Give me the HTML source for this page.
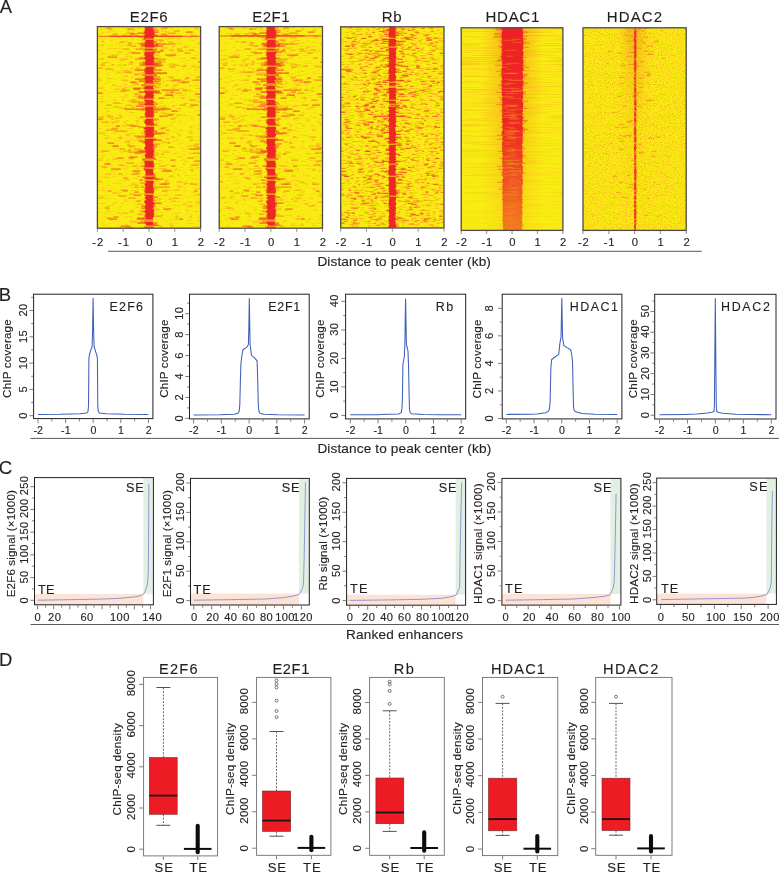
<!DOCTYPE html>
<html><head><meta charset="utf-8"><title>Figure</title><style>
html,body{margin:0;padding:0;background:#fff;overflow:hidden}
svg{display:block}
text{font-family:"Liberation Sans",sans-serif;stroke:#231f20;stroke-width:0.13px}
</style></head><body>
<svg width="779" height="873" viewBox="0 0 779 873">
<rect width="779" height="873" fill="#fff"/>
<defs>
<linearGradient id="g4b" x1="0" y1="0" x2="0" y2="1"><stop offset="0" stop-color="#ee2a24"/><stop offset="0.5" stop-color="#ee2f23"/><stop offset="0.7" stop-color="#f04c23"/><stop offset="1" stop-color="#f47a20"/></linearGradient>
<linearGradient id="g4h" x1="0" y1="0" x2="1" y2="0"><stop offset="0" stop-color="#f5901e" stop-opacity="0"/><stop offset="0.5" stop-color="#f5901e" stop-opacity="0.75"/><stop offset="1" stop-color="#f5901e" stop-opacity="0"/></linearGradient>
<linearGradient id="g4v" x1="0" y1="0" x2="0" y2="1"><stop offset="0" stop-color="#fff"/><stop offset="0.6" stop-color="#999"/><stop offset="1" stop-color="#333"/></linearGradient>
<mask id="m4"><rect x="460" y="27" width="104" height="204" fill="url(#g4v)"/></mask>
<linearGradient id="g5h" x1="0" y1="0" x2="1" y2="0"><stop offset="0" stop-color="#f4821f" stop-opacity="0"/><stop offset="0.5" stop-color="#f4821f" stop-opacity="0.55"/><stop offset="1" stop-color="#f4821f" stop-opacity="0"/></linearGradient>
<linearGradient id="g5v" x1="0" y1="0" x2="0" y2="1"><stop offset="0" stop-color="#fff"/><stop offset="0.2" stop-color="#888"/><stop offset="0.5" stop-color="#222"/><stop offset="1" stop-color="#000"/></linearGradient>
<mask id="m5"><rect x="582" y="27" width="106" height="204" fill="url(#g5v)"/></mask>
<filter id="n5" x="0" y="0" width="100%" height="100%" color-interpolation-filters="sRGB"><feTurbulence type="fractalNoise" baseFrequency="0.75 0.9" numOctaves="2" seed="7"/><feColorMatrix type="matrix" values="0 0 0 0 0.96  0 0 0 0 0.6  0 0 0 0 0.12  2.1 0 0 0 -0.96"/></filter>
<filter id="n3" x="0" y="0" width="100%" height="100%" color-interpolation-filters="sRGB"><feTurbulence type="fractalNoise" baseFrequency="0.2 0.7" numOctaves="2" seed="11"/><feColorMatrix type="matrix" values="0 0 0 0 0.965  0 0 0 0 0.62  0 0 0 0 0.12  3 0 0 0 -1.5"/></filter>
<filter id="n1" x="0" y="0" width="100%" height="100%" color-interpolation-filters="sRGB"><feTurbulence type="fractalNoise" baseFrequency="0.17 0.6" numOctaves="2" seed="5"/><feColorMatrix type="matrix" values="0 0 0 0 0.968  0 0 0 0 0.66  0 0 0 0 0.12  3 0 0 0 -1.68"/></filter>
<filter id="n4" x="0" y="0" width="100%" height="100%" color-interpolation-filters="sRGB"><feTurbulence type="fractalNoise" baseFrequency="0.02 0.9" numOctaves="2" seed="3"/><feColorMatrix type="matrix" values="0 0 0 0 0.965  0 0 0 0 0.68  0 0 0 0 0.12  2.0 0 0 0 -0.92"/></filter>
</defs>
<g>
<rect x="97.4" y="26.6" width="103.2" height="201.6" fill="#f9ec13"/>
<rect x="97.4" y="26.6" width="103.2" height="201.6" filter="url(#n1)" opacity="0.9"/>
<path d="M167.38 56.1h5.66M99.01 133.1h6.66M175.15 216.1h3.02M158.63 62.1h6.82M109.19 191.1h2.03M190.11 140.1h3.19M108.08 116.1h4.77M150.05 128.1h3.72M172.95 198.1h6.07M168.24 77.1h5.83M109.9 130.1h5.38M168.98 199.1h2.61M139.21 37.1h5.25M165.66 93.1h2.96M135.96 68.1h5.57M111.03 122.1h5.99M147.7 202.1h2.7M151.87 155.1h6.73M130.73 107.1h4.27M110.88 65.1h3.04M113.56 107.1h6.99M125.48 105.1h6.68M140.47 73.1h5.13M171.09 97.1h2.92M130.77 222.1h6M165.34 55.1h5.68M136.23 168.1h3.06M122.78 59.1h5.13M156.43 153.1h2.56M141.94 143.1h5.54M157.17 199.1h4.21M164.42 31.1h2.48M111.59 55.1h6.75M105.06 174.1h6.17M175.02 195.1h6.57M132.26 83.1h2.18M107.72 29.1h5.15M117.29 37.1h2.24M193.86 144.1h5.84M117.95 165.1h6.93M108.04 29.1h3.5M173.92 65.1h5.1M157.69 43.1h3.34M97.9 160.1h4.42M99.4 59.1h4.71M139.34 222.1h3.91M118.11 65.1h3.47M184.36 79.1h2.88M112.35 159.1h5.08M138.02 101.1h2.11M196.37 195.1h3.73M170.08 78.1h3.44M171.71 106.1h3.7M149.14 76.1h2.4M129.24 194.1h5.46M186.6 146.1h5.48M137.93 176.1h2.2M158.79 166.1h6.83M151.28 123.1h6.36M114.99 35.1h2.45M150.21 125.1h3.69M113.31 128.1h4.81M169.77 27.1h3.44M148.77 66.1h6.37M136.53 121.1h2.13M187.79 107.1h5.66M174.59 219.1h3.2M149.55 122.1h3.94M106.95 105.1h4.85M97.9 182.1h3.68M151.77 103.1h5.35M121.65 80.1h5.76M197.09 97.1h3.01M172.92 85.1h5.55M196.45 161.1h3.65M125.27 179.1h3.96M148.6 131.1h5.53M186.53 206.1h6.06M124.39 142.1h5.22M151.02 214.1h3.55M147.22 115.1h4.35M154.29 55.1h5.17M123.47 151.1h6.53M155.24 87.1h3.69M136.66 139.1h5.67M138.89 92.1h4.9M138.69 201.1h2.31M161.55 169.1h3.53M142.27 106.1h4.89M147.99 137.1h5.9M153.48 209.1h5.7M153.32 30.1h2.53M176.79 182.1h5.62M97.9 198.1h4.68M101.09 63.1h5.22M169.3 176.1h4.39M145.71 160.1h2.19M153.51 106.1h2M154.46 189.1h3.55M159.92 41.1h3.67M195.67 202.1h4.43M98.4 93.1h5.39M171.31 201.1h4.79M142.26 39.1h6.26M168.95 50.1h4.65M148.93 174.1h2.84M126.18 141.1h4.46M168.55 64.1h5.68M98.1 117.1h6.13M138.78 58.1h4.95M141.42 40.1h6.84M129.95 69.1h2.95M122.26 126.1h3.76M137.41 204.1h6.53M140.7 141.1h5.14M182.99 66.1h2.75M140.58 48.1h6.24M132.04 27.1h6.47M165.11 114.1h6.81M114.08 34.1h3.76M146.49 79.1h6.97M145.1 76.1h5.23M153.33 200.1h2.31M108.56 218.1h3.91M153.77 132.1h4.06M120.34 60.1h3.65M129.14 147.1h3.51M137.15 91.1h4.07M180.7 66.1h5.72M151.08 53.1h4.71M163.93 182.1h5.57M118.5 116.1h3.34M154.24 87.1h6.93M141.29 133.1h2.66M141.16 85.1h6.82M167.86 42.1h5.33M104.95 138.1h3.36M154.38 139.1h2.54M162.58 61.1h2.1M172.77 65.1h2.92M115.01 118.1h3.03M98.44 88.1h5.12M183.6 184.1h2.27M193.01 146.1h5.02M116.21 121.1h3.53M197.58 44.1h2.52M163.42 73.1h3.93M171 111.1h3.02M162.41 35.1h6.4M122.55 213.1h5.36M137.46 37.1h5.3M120.27 108.1h6.99M134.49 36.1h3.65M143.92 169.1h5.23M158.41 129.1h4.2M110.27 119.1h3.91M128.31 52.1h6.71M171.85 88.1h3.18M106.14 218.1h4.89M152.61 181.1h6.96M197.6 80.1h2.5M100.7 197.1h3.64M116.7 72.1h4.91M194.84 147.1h4.6M194.02 67.1h5.74M146.36 84.1h3.61M173.54 190.1h5.94M125.41 76.1h2.45M168.38 38.1h6.65M167.26 142.1h2.29M137.93 81.1h6.97M135.21 36.1h3.82M161.69 142.1h4.58M170.04 80.1h5.64M134.75 173.1h5.96M126.64 72.1h6.69M136.73 97.1h3.83M127.54 64.1h5.46M109.92 36.1h6.44M134.73 96.1h6.05M148.24 177.1h2.57M135.26 151.1h6.97M176.32 115.1h5.39M114.56 89.1h4.99M138.42 28.1h2.75M112.11 193.1h6.04M112.21 34.1h4.68M175.01 169.1h2.25M188.59 91.1h3.04M149.42 181.1h2.56M111.96 85.1h4.78M162.94 152.1h6.74M121.18 89.1h4.11M97.9 79.1h2.7M191.99 66.1h2.32M113.01 146.1h5.63M160.2 28.1h5.93M106.87 117.1h6.27M160.82 113.1h4.51M155.78 107.1h5.62M162.56 82.1h2.17M142.71 190.1h5.75M147.45 156.1h4.18M131.19 184.1h5.68M162.31 48.1h5.24M183.85 47.1h4.71M173.38 118.1h3.08M127.52 101.1h4.83M169.26 67.1h6.71M154.5 46.1h3.43M125.14 135.1h5.62M121.86 100.1h2.05M171.29 119.1h2.17M163 107.1h3.17M182.9 204.1h3.98M106.57 115.1h3.63M169.45 67.1h4.41M169.41 225.1h3.45M148.56 30.1h2.56M186.68 137.1h6.58" stroke="#f6961e" stroke-width="1" opacity="0.75" fill="none"/>
<path d="M164.48 170.1h6.41M150.45 35.1h4.93M126.92 125.1h7.33M147.59 35.1h7.48M147.59 106.1h3.61M193.44 36.1h3.9M160.37 110.1h4.27M127.15 29.1h7.51M128.5 152.1h7.93M104.85 208.1h4.47M134.07 84.1h5.09M147.78 65.1h3.31M156.98 40.1h6.98M152.49 104.1h5.61M128.3 198.1h7.37M149.47 91.1h7.48M161.78 191.1h5.54M158.87 51.1h5.3M148.84 63.1h6.71M125.5 227.1h6.22M149.78 214.1h5.68M179.56 105.1h6.53M169.78 160.1h6.28M128 43.1h4.36M105.53 69.1h7.44M105.55 28.1h5.29M115.08 131.1h3.36M123.07 65.1h3.26M131.28 100.1h5.29M190.04 184.1h7.25M131.62 174.1h7.37M148.27 145.1h4.98M143.14 75.1h3M126.57 33.1h7.21M102.64 167.1h4.73M176.85 49.1h5.15M122.17 90.1h7.48M101.44 122.1h7.1M160.86 154.1h3.09M142.04 160.1h5.03M127.47 45.1h4.07M142.93 212.1h3.26M162.49 184.1h6.71M130.93 126.1h7.98M155.53 79.1h3.24M133.61 149.1h7.97M137.42 152.1h7.36M190.69 36.1h4.73M119.63 91.1h6.66M120.95 190.1h6.06M164.67 44.1h5.91M168.29 33.1h7.48M147.51 219.1h4.95M145.69 81.1h5.13M167.27 143.1h3.11M118.36 138.1h3.26M145.73 126.1h3.15M105.8 130.1h3.74M123.44 72.1h7.24M160.88 108.1h5.43M118.23 174.1h4M137.43 214.1h5.19M162.35 28.1h5.59M154.43 36.1h3.53M107.59 191.1h3.8M117.94 131.1h6.5M154.34 134.1h7.52M140.68 151.1h7.67M133.98 89.1h6.05M143.75 128.1h6.76M184.5 53.1h6.28M167.06 95.1h6.14M119.03 196.1h7.58M152.22 93.1h4.26M152.26 46.1h6M158.55 226.1h3.08M112.98 103.1h7.53M100.79 65.1h4.36M124.38 131.1h3.16M191.03 165.1h7.41M160.62 34.1h5.43M151.32 120.1h5.4M146.03 46.1h5.33M192.2 80.1h6.89M157.41 84.1h3.85M152.73 81.1h3.45M169.52 44.1h6.13M128.03 150.1h3.79M190.62 170.1h3.01M187.2 158.1h6.7M123.02 178.1h4.61M173.61 31.1h6.06M97.9 68.1h4.79M146.37 73.1h5.58M193.5 161.1h6.24M171.06 137.1h3.57M127.7 29.1h3M138.9 58.1h7.82M164.92 55.1h6.17M133.98 94.1h5.53M100.85 151.1h6.12M134 74.1h6.63M132.32 166.1h4.64M197.5 148.1h2.6M130.22 126.1h6.04M134.45 187.1h4.59M154.61 61.1h7.21M148.64 162.1h5.27M150.66 83.1h6.57M142.99 52.1h7.01M147.04 37.1h7.28M126.96 163.1h7.42M110.97 129.1h6.94M122.53 49.1h6.88M122.76 35.1h3.45M198.13 153.1h1.97M122.96 191.1h5.02M196.32 77.1h3.78M181.52 98.1h3.28M165.49 130.1h4.3M193.02 153.1h4.78M119.33 42.1h4.98M182.24 90.1h5.27M143.49 137.1h4.29M188.81 50.1h5.14M132.53 34.1h5.44M127.96 158.1h6.06M189.41 100.1h6.11M144.2 91.1h7.32M128.58 146.1h6.88M127.34 145.1h3.07M171.5 81.1h3.19M140.52 152.1h5.62M148.76 215.1h4.42M155.24 216.1h6.48M177.43 82.1h7.71M135.64 201.1h4.9M175.51 93.1h6.24M119.6 149.1h5.66M168.23 147.1h4.56M152.01 50.1h4.44M177.55 51.1h6.1M156.51 73.1h3.3M131.56 46.1h4.38M155.48 83.1h3.72M191.17 58.1h4.57M129.51 62.1h3.59M139.21 63.1h5.75M160.61 35.1h6.56M143.33 120.1h5.51" stroke="#f26f21" stroke-width="1" opacity="0.8" fill="none"/>
<path d="M194.2 191.1h3.12M185.93 32.1h6.83M173.9 80.1h7.05M153.45 225.1h5.29M148.39 89.1h4.91M169.53 92.1h4.63M120.62 226.1h9.23M161.4 90.1h9.46M147.9 75.1h9.17M170.46 55.1h5.72M107.44 57.1h9.63M167.83 115.1h5.46M144.53 189.1h9.92M144.45 211.1h4M197.8 115.1h2.3M149.42 64.1h9.94M133.47 89.1h6.84M171.22 166.1h4.07M150.76 140.1h4.57M134.4 192.1h4.21M171.65 111.1h6.26M115.99 126.1h4.24M198.33 62.1h1.77M138.12 98.1h6.04M161.97 171.1h9.56M142.19 88.1h7.73M147.68 225.1h9M112.38 146.1h6.21M130.27 34.1h4.53M163.39 209.1h7.43M144.87 56.1h5.94M98.03 93.1h4.21M153.46 81.1h7.45M139.01 96.1h3.99M152.08 66.1h8.53M185.99 78.1h3.18M133.06 88.1h8.38M144.46 168.1h3.52M129.47 157.1h7.99M182.17 82.1h7.18M161.02 128.1h4.36M154.4 63.1h7.38M104.19 164.1h6.52M140.42 166.1h5.69M147.29 202.1h7.44M132.23 171.1h7.59M179.31 219.1h3.69M160.22 50.1h3.17M158.6 98.1h5.94M141.85 75.1h4.85M130.32 82.1h6.71M190.26 105.1h7.85M107.52 143.1h6.32M156.05 44.1h9.79M113.53 217.1h4.33M133.52 195.1h7.88M138.89 151.1h9.17M142.19 152.1h3.14M164.57 95.1h8.11M111.05 169.1h9.69M116.61 158.1h6.6M155.95 179.1h7.55M189.25 149.1h9.93M138.22 141.1h4.95M147.49 146.1h9.91M131.85 53.1h8.81M97.9 119.1h5.28M146.48 181.1h5.28M139.2 180.1h3.98M134.83 153.1h7.69M128.78 36.1h3.42M108.9 219.1h8.11M171.07 90.1h8.36M194.88 94.1h5.22M140.11 117.1h5.15M159.29 116.1h8.58M137.15 218.1h9.66M156.01 93.1h5.34M148.71 64.1h9.27M159.19 184.1h7.76" stroke="#ee3f24" stroke-width="1" opacity="0.85" fill="none"/>
<path d="M98.4 36.3h101.2" stroke="#f36f21" stroke-width="1.2" opacity="0.9" fill="none"/>
<path d="M109.4 36.3h30M131 36.3h40M160.6 36.3h22" stroke="#ee3f24" stroke-width="1.2" opacity="0.9" fill="none"/>
<path d="M144.26 27.1h9.27M144.1 28.1h12.62M146.58 29.1h4.49M146.32 30.1h12.6M139.91 37.1h7.34M146.22 38.1h4.9M148.04 41.1h7.59M140.64 43.1h4.75M135.68 49.1h21.74M148.74 50.1h8.55M146.44 51.1h8.14M143.51 55.1h5.9M139.81 58.1h18.48M135.01 59.1h31.14M148.09 63.1h4.88M147.84 77.1h12.22M143.59 78.1h8.73M144.54 86.1h11.47M140.22 97.1h11.19M131.76 102.1h24.11M142.3 108.1h7.1M140.42 110.1h19.19M151.63 112.1h6.09M153.17 119.1h5.58M138.5 127.1h5.75M133.95 136.1h13.2M137.33 137.1h11.56M142.48 142.1h5.79M145.24 144.1h14.54M138.13 151.1h15.82M143.11 161.1h7.55M144.04 163.1h6.85M139.75 183.1h11.79M140.91 187.1h28.97M145.31 192.1h7.86M145.79 200.1h9.63M139.67 211.1h8.12M143.65 212.1h10.45M142.31 218.1h6.59M140.74 221.1h11.31" stroke="#f26522" stroke-width="1" opacity="0.85" fill="none"/>
<path d="M146.98 32.1h11.72M137.56 33.1h17.53M143.28 35.1h14.12M147.65 36.1h5.28M143.3 39.1h10.22M152.42 42.1h4.47M139.4 44.1h18.61M141.83 45.1h16.27M140.63 46.1h22.45M144.29 52.1h16.09M142.84 62.1h4.52M142.4 64.1h9.34M139.49 65.1h23.36M149.18 68.1h6.79M134.54 70.1h27.64M144.6 73.1h22.43M151.08 75.1h5.33M147.5 76.1h6.39M135.01 79.1h25.92M139.07 81.1h12.77M141.38 85.1h12.95M144.58 90.1h6.42M149.56 91.1h10.25M139.22 92.1h20.37M147.68 93.1h4.32M148.06 94.1h4.36M144.49 98.1h7.35M138.23 104.1h12.57M135.89 106.1h7.5M146.64 107.1h9.43M124.71 109.1h46M146.71 114.1h5.2M145.22 123.1h7.13M150.03 125.1h7.39M143.26 128.1h10.95M143.79 131.1h13.22M146.55 133.1h18.73M146.63 134.1h6.63M150.19 139.1h5.79M151.98 140.1h9.67M149.74 148.1h5.86M145.31 150.1h4.44M144.66 155.1h10.08M147.3 158.1h7.64M142.02 159.1h14.31M143.31 168.1h4.25M146.87 175.1h9M142.08 177.1h13.93M149.17 178.1h6.65M152.61 179.1h5.65M152.7 197.1h5M147.52 198.1h4.02M144.57 202.1h6.95M148.62 203.1h12.87M149.98 204.1h5.15M141.34 206.1h14.03M141.14 208.1h6.8M136.69 219.1h8.29M137.28 223.1h19.96M143.66 227.1h10.43" stroke="#ee3324" stroke-width="1" opacity="0.9" fill="none"/>
<path d="M144.95 27.1h7.66M145.69 28.1h7.63M145.05 29.1h7.98M144.72 30.1h8.82M144.71 31.1h9.74M144.13 32.1h8.98M144.34 33.1h9.98M145.34 34.1h8.66M144.77 35.1h8.41M144.49 36.1h9.12M144.35 37.1h9.53M144.16 38.1h9.7M145.63 40.1h7.93M145.48 41.1h8.18M144.66 42.1h8.07M145.04 43.1h8.67M145.62 44.1h8.19M144.11 45.1h9.22M145.18 46.1h9.14M145 47.1h8.91M144.96 49.1h7.7M144.77 50.1h8.15M145.98 52.1h8.49M144.71 53.1h8.9M144.21 54.1h10.04M144.89 55.1h8.36M145.69 56.1h7.75M144.8 57.1h9.27M144.41 58.1h9.77M145.04 59.1h9.29M145.33 60.1h7.85M145.69 61.1h8.69M145.58 62.1h8.75M144.73 63.1h8.06M145.55 64.1h8.82M145.66 65.1h7.2M145.73 67.1h7.57M145.6 68.1h8.42M144.28 69.1h9.42M145.6 70.1h7.33M144.22 71.1h9.15M144.95 72.1h9.31M145.48 73.1h8.94M145.6 74.1h7.05M144.88 76.1h7.95M145.28 77.1h7.97M144.58 78.1h9.28M144.8 79.1h9.53M144.94 80.1h7.78M145.71 81.1h7.31M145.27 82.1h7.47M144.52 83.1h9.33M145.93 86.1h6.96M144.56 87.1h8.5M144.28 88.1h9.3M145.1 89.1h8.63M144.39 91.1h8.23M144.56 92.1h9.88M145.18 93.1h8.21M145.52 94.1h7.49M145.25 95.1h8.9M144.17 96.1h9.48M144.46 97.1h8.99M144.21 98.1h10.01M144.2 100.1h8.9M144.89 101.1h8.05M145.6 102.1h8.5M145.55 103.1h7.41M144.42 104.1h9.1M144.88 105.1h9.47M145.82 107.1h7.21M145.03 108.1h8.21M145.36 109.1h8.62M145.41 110.1h7.38M145.71 111.1h8.29M145.27 112.1h8.26M145.22 113.1h9.02M144.56 114.1h8.6M145.49 115.1h8.62M144.98 116.1h9.03M145.7 117.1h7.65M145.99 119.1h7.19M144.91 120.1h7.88M144.94 121.1h8.89M144.23 122.1h8.38M144.68 123.1h9.02M145.97 124.1h8.44M145.88 125.1h6.97M145.43 127.1h8.32M144.17 128.1h10.04M144.4 129.1h9.36M145.81 130.1h8.4M145.07 131.1h7.88M144.33 132.1h9.07M145.8 133.1h7.46M144.34 134.1h9.97M145.29 135.1h8.74M145.6 136.1h7.93M144.85 137.1h8.41M144.59 139.1h8.49M144.94 140.1h8M144.83 141.1h8.33M144.33 142.1h9.21M144.78 143.1h8.05M145.21 144.1h7.83M145.11 145.1h8.97M145.78 146.1h6.94M144.76 147.1h9.04M144.17 148.1h8.52M144.7 149.1h9.23M145.58 150.1h8.1M145.54 151.1h8.95M145.93 152.1h7.7M145.5 153.1h8.6M145.82 154.1h7.37M145.05 155.1h8.72M144.96 156.1h7.73M145.14 157.1h9.08M145.54 158.1h8.04M144.35 161.1h8.66M144.84 162.1h8.81M144.78 163.1h8.69M145.32 164.1h9.04M144.56 165.1h8.77M144.38 166.1h9.95M145.34 167.1h8.61M144.44 169.1h8.58M144.47 170.1h9.14M145.45 171.1h7.54M145.45 172.1h7.68M145.5 173.1h8.29M145.85 174.1h8.14M144.94 175.1h7.93M145.73 177.1h8.29M144.32 178.1h9.3M145.81 179.1h7.02M144.8 181.1h8.04M145.95 182.1h8.15M145.85 183.1h7.7M144.47 184.1h8.49M145 185.1h8.53M145.39 186.1h7.35M145.53 187.1h7.31M145.53 188.1h8.74M144.81 189.1h8.09M145.95 190.1h7.89M144.34 191.1h9.91M144.74 192.1h8.95M145.16 193.1h8.67M144.26 195.1h8.81M145.86 196.1h7.7M145.37 197.1h7.32M144.54 198.1h9.12M145.99 199.1h7.09M145.92 200.1h6.92M144.34 201.1h8.62M144.29 202.1h8.76M144.92 203.1h8.43M145.48 204.1h8.88M145.35 205.1h7.76M145.22 206.1h8.52M144.65 207.1h8.73M145.05 208.1h8.55M145.74 209.1h7M145.36 210.1h9.03M144.8 211.1h9.4M145.41 212.1h7.95M145.85 213.1h8.2M144.78 214.1h8.55M145.43 215.1h8.41M144.39 216.1h9.78M145.61 217.1h7.67M145.91 218.1h7.01M145.34 219.1h7.54M144.21 222.1h8.7M145.43 223.1h7.7M145.81 224.1h7.13M145.97 225.1h7.84M145.49 227.1h7.16" stroke="#ed2724" stroke-width="1.1" fill="none"/>
<path d="M145.38 39.1h8.46M145.1 48.1h8.39M145.29 51.1h7.56M144.44 66.1h9.63M145.41 75.1h8.85M145.27 84.1h7.49M144.82 85.1h9.66M145.21 90.1h7.85M145.77 99.1h8.17M145.73 106.1h8.01M145.8 118.1h6.9M145.64 126.1h7.98M145.12 138.1h8.85M144.91 159.1h9.27M144.85 160.1h9.57M145.08 168.1h8.79M144.14 176.1h8.79M144.42 180.1h8.77M144.52 194.1h9.06M144.14 220.1h9.54M145.25 221.1h7.76M145.7 226.1h8.56M144.47 228.1h8.99" stroke="#f6961e" stroke-width="1.1" fill="none"/>
<rect x="97.4" y="26.6" width="103.2" height="201.6" fill="none" stroke="#4d4a48" stroke-width="1.3"/>
</g>
<line x1="97.4" y1="228.7" x2="97.4" y2="231.8" stroke="#808285" stroke-width="0.9"/>
<text transform="translate(92.32 245.8) scale(1.05 1)" font-size="10.7" letter-spacing="0.8" fill="#231f20">-2</text>
<line x1="123.2" y1="228.7" x2="123.2" y2="231.8" stroke="#808285" stroke-width="0.9"/>
<text transform="translate(118.11 245.8) scale(1.05 1)" font-size="10.7" letter-spacing="0.8" fill="#231f20">-1</text>
<line x1="149" y1="228.7" x2="149" y2="231.8" stroke="#808285" stroke-width="0.9"/>
<text transform="translate(146.17 245.8) scale(1.05 1)" font-size="10.7" letter-spacing="0.8" fill="#231f20">0</text>
<line x1="174.8" y1="228.7" x2="174.8" y2="231.8" stroke="#808285" stroke-width="0.9"/>
<text transform="translate(171.83 245.8) scale(1.05 1)" font-size="10.7" letter-spacing="0.8" fill="#231f20">1</text>
<line x1="200.6" y1="228.7" x2="200.6" y2="231.8" stroke="#808285" stroke-width="0.9"/>
<text transform="translate(197.78 245.8) scale(1.05 1)" font-size="10.7" letter-spacing="0.8" fill="#231f20">2</text>
<text transform="translate(129.76 22.3) scale(1.0 1)" font-size="15" letter-spacing="0.67" fill="#231f20">E2F6</text>
<g>
<rect x="219.2" y="26.6" width="103.3" height="201.6" fill="#f9ec13"/>
<rect x="219.2" y="26.6" width="103.3" height="201.6" filter="url(#n1)" opacity="0.9"/>
<path d="M289.25 56.1h5.66M220.81 133.1h6.66M297.03 216.1h3.02M280.49 62.1h6.82M231 191.1h2.03M312 140.1h3.19M229.89 116.1h4.77M271.9 128.1h3.72M294.83 198.1h6.07M290.12 77.1h5.83M231.71 130.1h5.38M290.85 199.1h2.61M261.06 37.1h5.25M287.51 93.1h2.96M257.8 68.1h5.57M232.85 122.1h5.99M269.55 202.1h2.7M273.72 155.1h6.73M252.57 107.1h4.27M232.69 65.1h3.04M235.38 107.1h6.99M247.31 105.1h6.68M262.32 73.1h5.13M292.96 97.1h2.92M252.61 222.1h6M287.19 55.1h5.68M258.08 168.1h3.06M244.61 59.1h5.13M278.29 153.1h2.56M263.78 143.1h5.54M279.02 199.1h4.21M286.27 31.1h2.48M233.41 55.1h6.75M226.87 174.1h6.17M296.9 195.1h6.57M254.09 83.1h2.18M229.54 29.1h5.15M239.11 37.1h2.24M315.76 144.1h5.84M239.77 165.1h6.93M229.86 29.1h3.5M295.79 65.1h5.1M279.54 43.1h3.34M219.7 160.1h4.42M221.2 59.1h4.71M261.18 222.1h3.91M239.93 65.1h3.47M306.24 79.1h2.88M234.17 159.1h5.08M259.86 101.1h2.11M318.27 195.1h3.73M291.95 78.1h3.44M293.58 106.1h3.7M270.99 76.1h2.4M251.08 194.1h5.46M308.49 146.1h5.48M259.77 176.1h2.2M280.65 166.1h6.83M273.14 123.1h6.36M236.81 35.1h2.45M272.07 125.1h3.69M235.13 128.1h4.81M291.65 27.1h3.44M270.62 66.1h6.37M258.37 121.1h2.13M309.68 107.1h5.66M296.47 219.1h3.2M271.4 122.1h3.94M228.76 105.1h4.85M219.7 182.1h3.68M273.62 103.1h5.35M243.5 80.1h5.76M318.99 97.1h3.01M294.8 85.1h5.55M318.35 161.1h3.65M247.12 179.1h3.96M270.45 131.1h5.53M308.42 206.1h6.06M246.22 142.1h5.22M272.87 214.1h3.55M269.07 115.1h4.35M276.14 55.1h5.17M245.3 151.1h6.53M277.1 87.1h3.69M258.5 139.1h5.67M260.73 92.1h4.9M260.54 201.1h2.31M283.41 169.1h3.53M264.11 106.1h4.89M269.84 137.1h5.9M275.34 209.1h5.7M275.18 30.1h2.53M298.67 182.1h5.62M219.7 198.1h4.68M222.89 63.1h5.22M291.15 176.1h4.39M267.56 160.1h2.19M275.36 106.1h2M276.32 189.1h3.55M281.77 41.1h3.67M317.57 202.1h4.43M220.21 93.1h5.39M293.18 201.1h4.79M264.1 39.1h6.26M290.82 50.1h4.65M270.78 174.1h2.84M248.01 141.1h4.46M290.42 64.1h5.68M219.91 117.1h6.13M260.62 58.1h4.95M263.27 40.1h6.84M251.79 69.1h2.95M244.09 126.1h3.76M259.26 204.1h6.53M262.55 141.1h5.14M304.87 66.1h2.75M262.43 48.1h6.24M253.89 27.1h6.47M286.98 114.1h6.81M235.9 34.1h3.76M268.34 79.1h6.97M266.95 76.1h5.23M275.18 200.1h2.31M230.37 218.1h3.91M275.62 132.1h4.06M242.16 60.1h3.65M250.97 147.1h3.51M258.99 91.1h4.07M302.59 66.1h5.72M272.94 53.1h4.71M285.8 182.1h5.57M240.32 116.1h3.34M276.1 87.1h6.93M263.14 133.1h2.66M263.01 85.1h6.82M289.73 42.1h5.33M226.76 138.1h3.36M276.23 139.1h2.54M284.44 61.1h2.1M294.65 65.1h2.92M236.83 118.1h3.03M220.24 88.1h5.12M305.48 184.1h2.27M314.91 146.1h5.02M238.03 121.1h3.53M319.48 44.1h2.52M285.29 73.1h3.93M292.87 111.1h3.02M284.27 35.1h6.4M244.37 213.1h5.36M259.31 37.1h5.3M242.1 108.1h6.99M256.34 36.1h3.65M265.77 169.1h5.23M280.26 129.1h4.2M232.09 119.1h3.91M250.16 52.1h6.71M293.72 88.1h3.18M227.95 218.1h4.89M274.46 181.1h6.96M319.5 80.1h2.5M222.51 197.1h3.64M238.52 72.1h4.91M316.74 147.1h4.6M315.91 67.1h5.74M268.21 84.1h3.61M295.41 190.1h5.94M247.24 76.1h2.45M290.26 38.1h6.65M289.13 142.1h2.29M259.78 81.1h6.97M257.04 36.1h3.82M283.55 142.1h4.58M291.91 80.1h5.64M256.59 173.1h5.96M248.47 72.1h6.69M258.58 97.1h3.83M249.37 64.1h5.46M231.74 36.1h6.44M256.58 96.1h6.05M270.09 177.1h2.57M257.11 151.1h6.97M298.2 115.1h5.39M236.38 89.1h4.99M260.26 28.1h2.75M233.96 193.1h6.04M234.03 34.1h4.68M296.88 169.1h2.25M310.48 91.1h3.04M271.27 181.1h2.56M233.78 85.1h4.78M284.81 152.1h6.74M243 89.1h4.11M219.7 79.1h2.7M313.88 66.1h2.32M234.83 146.1h5.63M282.06 28.1h5.93M228.69 117.1h6.27M282.68 113.1h4.51M277.63 107.1h5.62M284.41 82.1h2.17M264.56 190.1h5.75M269.3 156.1h4.18M253.02 184.1h5.68M284.18 48.1h5.24M305.73 47.1h4.71M295.26 118.1h3.08M249.35 101.1h4.83M291.13 67.1h6.71M276.35 46.1h3.43M246.97 135.1h5.62M243.68 100.1h2.05M293.16 119.1h2.17M284.86 107.1h3.17M304.78 204.1h3.98M228.39 115.1h3.63M291.32 67.1h4.41M291.26 225.1h3.45M270.41 30.1h2.56M308.57 137.1h6.58" stroke="#f6961e" stroke-width="1" opacity="0.75" fill="none"/>
<path d="M286.33 170.1h6.41M272.3 35.1h4.93M248.77 125.1h7.33M269.44 35.1h7.48M269.44 106.1h3.61M315.34 36.1h3.9M282.22 110.1h4.27M248.98 29.1h7.51M250.33 152.1h7.93M226.66 208.1h4.47M255.91 84.1h5.09M269.63 65.1h3.31M278.83 40.1h6.98M274.34 104.1h5.61M250.14 198.1h7.37M271.32 91.1h7.48M283.64 191.1h5.54M280.72 51.1h5.3M270.7 63.1h6.71M247.33 227.1h6.22M271.63 214.1h5.68M301.44 105.1h6.53M291.66 160.1h6.28M249.85 43.1h4.36M227.34 69.1h7.44M227.36 28.1h5.29M236.9 131.1h3.36M244.9 65.1h3.26M253.11 100.1h5.29M311.94 184.1h7.25M253.46 174.1h7.37M270.13 145.1h4.98M264.99 75.1h3M248.4 33.1h7.21M224.44 167.1h4.73M298.73 49.1h5.15M244.02 90.1h7.48M223.25 122.1h7.1M282.72 154.1h3.09M263.89 160.1h5.03M249.3 45.1h4.07M264.78 212.1h3.26M284.35 184.1h6.71M252.76 126.1h7.98M277.38 79.1h3.24M255.46 149.1h7.97M259.27 152.1h7.36M312.58 36.1h4.73M241.46 91.1h6.66M242.78 190.1h6.06M286.54 44.1h5.91M290.17 33.1h7.48M269.36 219.1h4.95M267.54 81.1h5.13M289.14 143.1h3.11M240.21 138.1h3.26M267.58 126.1h3.15M227.61 130.1h3.74M245.29 72.1h7.24M282.75 108.1h5.43M240.05 174.1h4M259.28 214.1h5.19M284.2 28.1h5.59M276.28 36.1h3.53M229.4 191.1h3.8M239.77 131.1h6.5M276.2 134.1h7.52M262.53 151.1h7.67M255.83 89.1h6.05M265.6 128.1h6.76M306.39 53.1h6.28M288.91 95.1h6.14M240.86 196.1h7.58M274.07 93.1h4.26M274.11 46.1h6M280.4 226.1h3.08M234.8 103.1h7.53M222.59 65.1h4.36M246.21 131.1h3.16M312.92 165.1h7.41M282.48 34.1h5.43M273.17 120.1h5.4M267.88 46.1h5.33M314.1 80.1h6.89M279.26 84.1h3.85M274.58 81.1h3.45M291.37 44.1h6.13M249.88 150.1h3.79M312.52 170.1h3.01M309.09 158.1h6.7M244.87 178.1h4.61M295.49 31.1h6.06M219.7 68.1h4.79M268.22 73.1h5.58M315.39 161.1h6.24M292.94 137.1h3.57M249.53 29.1h3M260.75 58.1h7.82M286.77 55.1h6.17M255.82 94.1h5.53M222.66 151.1h6.12M255.85 74.1h6.63M254.15 166.1h4.64M319.4 148.1h2.6M252.06 126.1h6.04M256.3 187.1h4.59M276.46 61.1h7.21M270.49 162.1h5.27M272.51 83.1h6.57M264.84 52.1h7.01M268.89 37.1h7.28M248.81 163.1h7.42M232.78 129.1h6.94M244.36 49.1h6.88M244.59 35.1h3.45M320.03 153.1h1.97M244.78 191.1h5.02M318.21 77.1h3.79M303.41 98.1h3.28M287.36 130.1h4.3M314.92 153.1h4.78M241.15 42.1h4.98M304.13 90.1h5.27M265.34 137.1h4.29M310.7 50.1h5.14M254.38 34.1h5.44M249.79 158.1h6.06M311.3 100.1h6.11M266.05 91.1h7.32M250.43 146.1h6.88M249.19 145.1h3.07M293.37 81.1h3.19M262.36 152.1h5.62M270.61 215.1h4.42M277.09 216.1h6.48M299.32 82.1h7.71M257.48 201.1h4.9M297.39 93.1h6.24M241.42 149.1h5.66M290.1 147.1h4.56M273.86 50.1h4.44M299.43 51.1h6.1M278.36 73.1h3.3M253.4 46.1h4.38M277.33 83.1h3.72M313.06 58.1h4.57M251.36 62.1h3.59M261.06 63.1h5.75M282.46 35.1h6.56M265.18 120.1h5.51" stroke="#f26f21" stroke-width="1" opacity="0.8" fill="none"/>
<path d="M316.1 191.1h3.12M307.82 32.1h6.83M295.75 80.1h7.05M275.3 225.1h5.29M270.24 89.1h4.91M291.41 92.1h4.63M242.47 226.1h9.23M283.26 90.1h9.46M269.75 75.1h9.17M292.33 55.1h5.72M229.25 57.1h9.63M289.7 115.1h5.46M266.38 189.1h9.92M266.29 211.1h4M319.7 115.1h2.3M271.27 64.1h9.94M255.32 89.1h6.84M293.07 166.1h4.07M272.61 140.1h4.57M256.25 192.1h4.21M293.52 111.1h6.26M237.81 126.1h4.24M320.23 62.1h1.77M259.96 98.1h6.04M283.84 171.1h9.56M264.04 88.1h7.73M269.53 225.1h9M234.2 146.1h6.21M252.12 34.1h4.53M285.24 209.1h7.43M266.72 56.1h5.94M219.83 93.1h4.21M275.31 81.1h7.45M260.86 96.1h3.99M273.93 66.1h8.53M307.84 78.1h3.18M254.89 88.1h8.38M266.31 168.1h3.52M251.3 157.1h7.99M304.06 82.1h7.18M282.89 128.1h4.36M276.25 63.1h7.38M226 164.1h6.52M262.27 166.1h5.69M269.14 202.1h7.44M254.08 171.1h7.59M301.19 219.1h3.69M282.07 50.1h3.17M280.45 98.1h5.94M263.7 75.1h4.85M252.17 82.1h6.71M312.16 105.1h7.85M229.33 143.1h6.32M277.91 44.1h9.79M235.35 217.1h4.33M255.37 195.1h7.88M260.74 151.1h9.17M264.04 152.1h3.14M286.43 95.1h8.11M232.86 169.1h9.69M238.43 158.1h6.6M277.81 179.1h7.55M311.15 149.1h9.93M260.07 141.1h4.95M269.34 146.1h9.91M253.69 53.1h8.81M219.7 119.1h5.28M268.33 181.1h5.28M261.05 180.1h3.98M256.68 153.1h7.69M250.63 36.1h3.42M230.72 219.1h8.11M292.95 90.1h8.36M316.78 94.1h5.22M261.96 117.1h5.15M281.14 116.1h8.58M259 218.1h9.66M277.86 93.1h5.34M270.56 64.1h9.27M281.04 184.1h7.76" stroke="#ee3f24" stroke-width="1" opacity="0.85" fill="none"/>
<path d="M220.2 35.9h101.3" stroke="#f36f21" stroke-width="1.2" opacity="0.9" fill="none"/>
<path d="M231.2 35.9h30M252.85 35.9h40M282.5 35.9h22" stroke="#ee3f24" stroke-width="1.2" opacity="0.9" fill="none"/>
<path d="M266.11 27.1h9.27M265.95 28.1h12.62M268.43 29.1h4.49M268.17 30.1h12.6M261.76 37.1h7.34M268.07 38.1h4.9M269.89 41.1h7.59M262.49 43.1h4.75M257.53 49.1h21.74M270.59 50.1h8.55M268.29 51.1h8.14M265.36 55.1h5.9M261.66 58.1h18.48M256.86 59.1h31.14M269.94 63.1h4.88M269.69 77.1h12.22M265.44 78.1h8.73M266.39 86.1h11.47M262.07 97.1h11.19M253.61 102.1h24.11M264.15 108.1h7.1M262.27 110.1h19.19M273.48 112.1h6.09M275.02 119.1h5.58M260.35 127.1h5.75M255.8 136.1h13.2M259.18 137.1h11.56M264.33 142.1h5.79M267.09 144.1h14.54M259.98 151.1h15.82M264.96 161.1h7.55M265.89 163.1h6.85M261.6 183.1h11.79M262.76 187.1h28.97M267.16 192.1h7.86M267.64 200.1h9.63M261.52 211.1h8.12M265.5 212.1h10.45M264.16 218.1h6.59M262.59 221.1h11.31" stroke="#f26522" stroke-width="1" opacity="0.85" fill="none"/>
<path d="M268.83 32.1h11.72M259.41 33.1h17.53M265.13 35.1h14.12M269.5 36.1h5.28M265.15 39.1h10.22M274.27 42.1h4.47M261.25 44.1h18.61M263.68 45.1h16.27M262.48 46.1h22.45M266.14 52.1h16.09M264.69 62.1h4.52M264.25 64.1h9.34M261.34 65.1h23.36M271.03 68.1h6.79M256.39 70.1h27.64M266.45 73.1h22.43M272.93 75.1h5.33M269.35 76.1h6.39M256.86 79.1h25.92M260.92 81.1h12.77M263.23 85.1h12.95M266.43 90.1h6.42M271.41 91.1h10.25M261.07 92.1h20.37M269.53 93.1h4.32M269.91 94.1h4.36M266.34 98.1h7.35M260.08 104.1h12.57M257.74 106.1h7.5M268.49 107.1h9.43M246.56 109.1h46M268.56 114.1h5.2M267.07 123.1h7.13M271.88 125.1h7.39M265.11 128.1h10.95M265.64 131.1h13.22M268.4 133.1h18.73M268.48 134.1h6.63M272.04 139.1h5.79M273.83 140.1h9.67M271.59 148.1h5.86M267.16 150.1h4.44M266.51 155.1h10.08M269.15 158.1h7.64M263.87 159.1h14.31M265.16 168.1h4.25M268.72 175.1h9M263.93 177.1h13.93M271.02 178.1h6.65M274.46 179.1h5.65M274.55 197.1h5M269.37 198.1h4.02M266.42 202.1h6.95M270.47 203.1h12.87M271.83 204.1h5.15M263.19 206.1h14.03M262.99 208.1h6.8M258.54 219.1h8.29M259.13 223.1h19.96M265.51 227.1h10.43" stroke="#ee3324" stroke-width="1" opacity="0.9" fill="none"/>
<path d="M266.8 27.1h7.66M267.54 28.1h7.63M266.9 29.1h7.98M266.57 30.1h8.82M266.56 31.1h9.74M265.98 32.1h8.98M266.19 33.1h9.98M267.19 34.1h8.66M266.62 35.1h8.41M266.34 36.1h9.12M266.2 37.1h9.53M266.01 38.1h9.7M267.48 40.1h7.93M267.33 41.1h8.18M266.51 42.1h8.07M266.89 43.1h8.67M267.47 44.1h8.19M265.96 45.1h9.22M267.03 46.1h9.14M266.85 47.1h8.91M266.81 49.1h7.7M266.62 50.1h8.15M267.83 52.1h8.49M266.56 53.1h8.9M266.06 54.1h10.04M266.74 55.1h8.36M267.54 56.1h7.75M266.65 57.1h9.27M266.26 58.1h9.77M266.89 59.1h9.29M267.18 60.1h7.85M267.54 61.1h8.69M267.43 62.1h8.75M266.58 63.1h8.06M267.4 64.1h8.82M267.51 65.1h7.2M267.58 67.1h7.57M267.45 68.1h8.42M266.13 69.1h9.42M267.45 70.1h7.33M266.07 71.1h9.15M266.8 72.1h9.31M267.33 73.1h8.94M267.45 74.1h7.05M266.73 76.1h7.95M267.13 77.1h7.97M266.43 78.1h9.28M266.65 79.1h9.53M266.79 80.1h7.78M267.56 81.1h7.31M267.12 82.1h7.47M266.37 83.1h9.33M267.78 86.1h6.96M266.41 87.1h8.5M266.13 88.1h9.3M266.95 89.1h8.63M266.24 91.1h8.23M266.41 92.1h9.88M267.03 93.1h8.21M267.37 94.1h7.49M267.1 95.1h8.9M266.02 96.1h9.48M266.31 97.1h8.99M266.06 98.1h10.01M266.05 100.1h8.9M266.74 101.1h8.05M267.45 102.1h8.5M267.4 103.1h7.41M266.27 104.1h9.1M266.73 105.1h9.47M267.67 107.1h7.21M266.88 108.1h8.21M267.21 109.1h8.62M267.26 110.1h7.38M267.56 111.1h8.29M267.12 112.1h8.26M267.07 113.1h9.02M266.41 114.1h8.6M267.34 115.1h8.62M266.83 116.1h9.03M267.55 117.1h7.65M267.84 119.1h7.19M266.76 120.1h7.88M266.79 121.1h8.89M266.08 122.1h8.38M266.53 123.1h9.02M267.82 124.1h8.44M267.73 125.1h6.97M267.28 127.1h8.32M266.02 128.1h10.04M266.25 129.1h9.36M267.66 130.1h8.4M266.92 131.1h7.88M266.18 132.1h9.07M267.65 133.1h7.46M266.19 134.1h9.97M267.14 135.1h8.74M267.45 136.1h7.93M266.7 137.1h8.41M266.44 139.1h8.49M266.79 140.1h8M266.68 141.1h8.33M266.18 142.1h9.21M266.63 143.1h8.05M267.06 144.1h7.83M266.96 145.1h8.97M267.63 146.1h6.94M266.61 147.1h9.04M266.02 148.1h8.52M266.55 149.1h9.23M267.43 150.1h8.1M267.39 151.1h8.95M267.78 152.1h7.7M267.35 153.1h8.6M267.67 154.1h7.37M266.9 155.1h8.72M266.81 156.1h7.73M266.99 157.1h9.08M267.39 158.1h8.04M266.2 161.1h8.66M266.69 162.1h8.81M266.63 163.1h8.69M267.17 164.1h9.04M266.41 165.1h8.77M266.23 166.1h9.95M267.19 167.1h8.61M266.29 169.1h8.58M266.32 170.1h9.14M267.3 171.1h7.54M267.3 172.1h7.68M267.35 173.1h8.29M267.7 174.1h8.14M266.79 175.1h7.93M267.58 177.1h8.29M266.17 178.1h9.3M267.66 179.1h7.02M266.65 181.1h8.04M267.8 182.1h8.15M267.7 183.1h7.7M266.32 184.1h8.49M266.85 185.1h8.53M267.24 186.1h7.35M267.38 187.1h7.31M267.38 188.1h8.74M266.66 189.1h8.09M267.8 190.1h7.89M266.19 191.1h9.91M266.59 192.1h8.95M267.01 193.1h8.67M266.11 195.1h8.81M267.71 196.1h7.7M267.22 197.1h7.32M266.39 198.1h9.12M267.84 199.1h7.09M267.77 200.1h6.92M266.19 201.1h8.62M266.14 202.1h8.76M266.77 203.1h8.43M267.33 204.1h8.88M267.2 205.1h7.76M267.07 206.1h8.52M266.5 207.1h8.73M266.9 208.1h8.55M267.59 209.1h7M267.21 210.1h9.03M266.65 211.1h9.4M267.26 212.1h7.95M267.7 213.1h8.2M266.63 214.1h8.55M267.28 215.1h8.41M266.24 216.1h9.78M267.46 217.1h7.67M267.76 218.1h7.01M267.19 219.1h7.54M266.06 222.1h8.7M267.28 223.1h7.7M267.66 224.1h7.13M267.82 225.1h7.84M267.34 227.1h7.16" stroke="#ed2724" stroke-width="1.1" fill="none"/>
<path d="M267.23 39.1h8.46M266.95 48.1h8.39M267.14 51.1h7.56M266.29 66.1h9.63M267.26 75.1h8.85M267.12 84.1h7.49M266.67 85.1h9.66M267.06 90.1h7.85M267.62 99.1h8.17M267.58 106.1h8.01M267.65 118.1h6.9M267.49 126.1h7.98M266.97 138.1h8.85M266.76 159.1h9.27M266.7 160.1h9.57M266.93 168.1h8.79M265.99 176.1h8.79M266.27 180.1h8.77M266.37 194.1h9.06M265.99 220.1h9.54M267.1 221.1h7.76M267.55 226.1h8.56M266.32 228.1h8.99" stroke="#f6961e" stroke-width="1.1" fill="none"/>
<rect x="219.2" y="26.6" width="103.3" height="201.6" fill="none" stroke="#4d4a48" stroke-width="1.3"/>
</g>
<line x1="219.2" y1="228.7" x2="219.2" y2="231.8" stroke="#808285" stroke-width="0.9"/>
<text transform="translate(214.12 245.8) scale(1.05 1)" font-size="10.7" letter-spacing="0.8" fill="#231f20">-2</text>
<line x1="245.02" y1="228.7" x2="245.02" y2="231.8" stroke="#808285" stroke-width="0.9"/>
<text transform="translate(239.93 245.8) scale(1.05 1)" font-size="10.7" letter-spacing="0.8" fill="#231f20">-1</text>
<line x1="270.85" y1="228.7" x2="270.85" y2="231.8" stroke="#808285" stroke-width="0.9"/>
<text transform="translate(268.02 245.8) scale(1.05 1)" font-size="10.7" letter-spacing="0.8" fill="#231f20">0</text>
<line x1="296.68" y1="228.7" x2="296.68" y2="231.8" stroke="#808285" stroke-width="0.9"/>
<text transform="translate(293.7 245.8) scale(1.05 1)" font-size="10.7" letter-spacing="0.8" fill="#231f20">1</text>
<line x1="322.5" y1="228.7" x2="322.5" y2="231.8" stroke="#808285" stroke-width="0.9"/>
<text transform="translate(319.68 245.8) scale(1.05 1)" font-size="10.7" letter-spacing="0.8" fill="#231f20">2</text>
<text transform="translate(252.16 22.3) scale(1.0 1)" font-size="15" letter-spacing="0.53" fill="#231f20">E2F1</text>
<g>
<rect x="340.7" y="26.8" width="103.3" height="201.2" fill="#f9ec13"/>
<rect x="340.7" y="26.8" width="103.3" height="201.2" filter="url(#n3)"/>
<path d="M412.39 56.3h3.82M343.37 103.3h3.59M415.09 151.3h3.13M410.04 72.3h3.83M394.27 115.3h2.44M365.02 151.3h2.28M416.28 93.3h3.29M360.24 106.3h3.77M384.21 153.3h4.01M384.95 154.3h3.88M415.55 200.3h3.8M439.52 210.3h3.58M408.98 216.3h3.15M361.04 77.3h3.34M353.74 159.3h3.44M355.04 73.3h2.36M414.31 57.3h3.24M416.18 75.3h2.6M386.2 120.3h4.53M368.54 155.3h2.51M438.26 185.3h4.76M361.34 120.3h3.95M366.84 154.3h4.34M353.7 39.3h3.35M437.88 147.3h3.02M365.18 53.3h2.41M395.78 28.3h4.77M438.7 40.3h2.09M387.96 128.3h2.82M349.41 137.3h4.25M346.41 156.3h2.53M353.08 222.3h3.02M363.78 121.3h3.45M374 68.3h3.46M374.26 165.3h2.06M379.39 38.3h3.32M439.85 116.3h2.69M422.8 91.3h4.05M348.85 153.3h4.58M361.02 80.3h2.07M423.32 61.3h4.46M413.61 221.3h2.74M423.67 144.3h2.03M345.6 134.3h3.57M409.76 93.3h2.24M376.28 184.3h4.57M371.98 205.3h4.47M358.93 129.3h3.15M355.66 218.3h2.04M419.17 127.3h2.12M425.59 126.3h4.65M395.36 175.3h3.1M364.15 85.3h3.07M348.4 58.3h3.94M414.05 95.3h4.94M380.88 60.3h2.99M429.71 57.3h3.67M416.15 207.3h4.84M381.36 66.3h4.96M402.01 193.3h3.8M431.02 143.3h3.79M431.86 59.3h4.78M386.32 66.3h3.12M395.31 177.3h4.63M371.69 219.3h4.91M392.68 105.3h2.53M362.97 181.3h3.47M425.84 159.3h3.18M428.13 96.3h3.69M349.31 166.3h4.77M416.54 109.3h4.49M439.34 49.3h4.16M378.25 145.3h2.37M351.31 208.3h4.56M403.33 81.3h4.38M419.13 41.3h2.57M348.54 123.3h3.76M369.68 205.3h3.48M356.98 29.3h4.82M346.96 69.3h3.98M402.07 54.3h3.98M382.64 168.3h3.78M423.1 200.3h4.53M383.93 77.3h4.62M406.26 69.3h4.81M358.26 158.3h3.15M427.37 175.3h4.99M341.2 77.3h4.78M383.26 106.3h2.35M388.18 220.3h2.97M411.81 215.3h4.81M361.91 201.3h3.16M395.21 225.3h3.31M381.7 168.3h4.64M431.62 189.3h4.19M397.23 147.3h4.24M401.28 115.3h2.66M393.52 191.3h2.75M441.85 77.3h1.65M369.08 43.3h2.69M397.35 144.3h4.99M397.33 102.3h4.63M401.32 113.3h3.47M442.21 59.3h1.29M375.7 126.3h3.17M400.59 94.3h4.81M415.1 95.3h4.53M374.84 189.3h3.07M428.1 52.3h3.31M421.47 210.3h4.33M375.57 29.3h4.43M341.2 174.3h1.98M413.47 49.3h2.53M366.29 221.3h4.63M367.28 128.3h4.66M396.4 31.3h4.28M341.2 76.3h2.16M379.09 54.3h3.18M353.36 154.3h4.83M382.21 121.3h2.21M416.81 179.3h4.48M397.76 217.3h3.85M401.21 176.3h3.63M372.3 55.3h3.79M428.94 148.3h2.47M367.71 134.3h4.86M406.27 139.3h2.79M394.52 163.3h3.14M428.6 89.3h2.12M343.19 122.3h3.34M415.27 73.3h4.01M417.28 201.3h4.79M409.74 215.3h4.92M349.74 45.3h3.72M396.24 64.3h3.49M346.1 32.3h2.33M407.56 183.3h4.77M382.95 39.3h3.02M436.48 81.3h2.23M417.16 60.3h4.52M380.88 51.3h2.95M374.46 103.3h2.84M435.61 103.3h3.63M342.9 106.3h2.66M349.01 162.3h3.29M427.33 213.3h2.53M434.05 101.3h2.34M441.34 81.3h2.16M419.36 99.3h4.28M358.07 115.3h3.46M348.36 96.3h2.89M438.56 147.3h2.07M438.76 187.3h2.21M350.85 43.3h3.39M366.66 202.3h2.65M424.33 194.3h2.55M395.35 144.3h4.34M414.3 104.3h2.04M400.94 161.3h3.84M397.99 42.3h4.57M376.57 126.3h2.07M359.87 204.3h2.71M405.77 200.3h4.17M391.37 204.3h4.52M381.24 224.3h4.79M358.41 158.3h4.59M392.59 111.3h2.2M440.3 97.3h3.2M419.85 222.3h3.33M438.52 190.3h2.61M440.65 41.3h2.85M373.49 73.3h4.94M421.73 182.3h3.15M405.75 148.3h2.34M391.45 80.3h2.75M427.85 45.3h3.87M375.73 46.3h4.39M371.9 153.3h3.69M385.87 127.3h3.15M396.35 226.3h3.22M421.24 103.3h4.48M358.27 156.3h2.07M403.42 82.3h4.94M363.26 45.3h4.27M421.81 220.3h4.38M394.13 191.3h4.29M367.43 176.3h3M341.2 107.3h3.43M368.18 58.3h2.1M402.73 127.3h2.37M375.42 150.3h3.15M372.71 83.3h4.61M373.8 161.3h4.15M390.19 122.3h4.08M414.99 127.3h3.15M428.72 28.3h4.89M359.29 169.3h3.68M425.25 191.3h3.27M438.68 133.3h3.4M435.01 184.3h2.52M400.57 174.3h3.5M397.5 169.3h4.32M357.72 112.3h4.6M390.05 154.3h4.56M376.25 51.3h2.38M441.31 222.3h2.19M402.45 222.3h3.52M356.37 42.3h4.06M411.87 55.3h2.68M400.15 221.3h2.44M438.67 165.3h4.79M343.34 49.3h2.06M414.83 182.3h4.42M344.76 84.3h4.15M420.05 214.3h2.7M435.25 78.3h2.42M413.64 97.3h3.55M371.9 216.3h4.14M426.24 215.3h3.39M373.62 77.3h3.8M425.71 222.3h3.09M349.75 161.3h2.3M432.07 174.3h2.99M392.57 103.3h2.27M388.08 178.3h4.34M386.79 154.3h3.3M377.92 28.3h3.08M395.46 220.3h4.4M432.87 212.3h3.09M384.97 158.3h4.92M363.43 97.3h2.05M348.68 69.3h4.67M379.96 216.3h4.79M428.17 34.3h2.63M392.56 169.3h3.18M407.08 197.3h3.72M341.61 174.3h3.99M351.28 226.3h3.51M369.26 114.3h2.08M434.74 123.3h4.74M365.2 154.3h3.77M375.21 43.3h2.78M409.11 113.3h3.28M373.76 147.3h3.81M343.02 124.3h4.08M366.5 199.3h2.96M396.93 116.3h4.55M365.74 175.3h3.5M364.86 158.3h3.02M374.79 97.3h4.35M398.24 183.3h3.49M376.22 92.3h3.32M341.2 105.3h3.4M378.69 79.3h2.47M403.78 73.3h2.68M391.37 43.3h4.72M375.95 156.3h2.51M433.35 175.3h4.94M373.43 98.3h2.06M436.1 48.3h2.36M350.42 57.3h3.74M386.6 93.3h3.31M392.06 175.3h3.99M368.18 166.3h4.6M405.29 76.3h3.47M440.87 84.3h2.63M431.87 83.3h4.26M398.93 66.3h3.76M376.11 135.3h3.06M353.63 48.3h3.23M418.29 79.3h3.89M400.94 35.3h3.43M412.75 218.3h3.63M429.1 195.3h4.76M348.47 48.3h4.14M388.23 197.3h2.58M380.07 36.3h4.8M407.72 47.3h4.01M415.81 65.3h3.37M440.58 68.3h2.92M392.52 173.3h2.97M412.59 201.3h2.78M392.73 87.3h2.53M425.49 205.3h4.57M370.05 158.3h3.71M399.17 139.3h3.81M354.85 39.3h2.19M399.76 77.3h4.52M384.33 200.3h4.17M384.14 84.3h3.12M385.27 142.3h4.51M389.03 159.3h3.3M341.66 139.3h2.73M344.72 126.3h3.67M408.42 224.3h4.24M417.41 51.3h2.25M423.25 36.3h2M361.76 50.3h4.23M387.02 170.3h3.66M429.99 148.3h2.48M363.36 59.3h2.64M369.56 208.3h2.4M440.55 216.3h2.34M422.89 89.3h4.61M376.08 196.3h2.02M391.4 222.3h2.11M376.96 136.3h2.08M414.81 125.3h3.38M400.85 90.3h2.9M429.66 171.3h3.42M401.9 89.3h3.09M345.29 69.3h3.08M390.16 170.3h4.35M356.3 223.3h3.59M371.33 140.3h3.32M364.9 212.3h3.81M431.49 221.3h4.56M397.09 212.3h3.03M416.52 115.3h2.87M355.38 29.3h2.18M425.88 91.3h4.42M379.77 197.3h4.75M386 114.3h4.12M377.72 143.3h3.15M384.01 51.3h4.23M381.22 131.3h2.91M378.73 218.3h3.19M427.41 86.3h4.96M410.26 223.3h3.6M378.67 135.3h3.26M376.93 166.3h4.01M357.42 27.3h3.16M387.35 132.3h3.42M389.3 90.3h2.23M413.37 61.3h3.83M407.31 124.3h4.27M381.65 124.3h4.2M349.54 147.3h3.14M429.14 93.3h4.18M389.55 215.3h2.48M382.9 73.3h4.92M357.18 159.3h4.53M439.27 219.3h4.23M347.58 132.3h2.67M410.11 65.3h2.02M374.57 89.3h2.97M368.36 102.3h2.97M377.88 69.3h3.34M375.02 184.3h2.3M441.81 144.3h1.69M414.49 118.3h3.36M425.95 158.3h4.4M373.09 119.3h3.07M367.12 91.3h4.9M365.98 43.3h4.75M384.49 82.3h2.37M440.03 138.3h2.5M389.83 95.3h2.76M347.37 106.3h3.91M349.35 183.3h2.22M370.07 37.3h2.46M437.23 96.3h4.94M434.56 27.3h4.94M399.31 209.3h2.81M394.1 195.3h2.86M414.71 46.3h2.35M377.34 184.3h3.98M412.65 202.3h3.25M394.04 92.3h3.51M395.15 189.3h2.4M384.54 98.3h3.07M347.63 195.3h4.8M398.4 201.3h4.52M393.77 134.3h2.67M372.53 60.3h3.12M390.18 115.3h2.93M358.06 164.3h4.41M372.6 146.3h4.29M341.2 186.3h1.73M373.02 71.3h4.2" stroke="#f6961e" stroke-width="1" opacity="0.85" fill="none"/>
<path d="M442.28 177.3h1.22M346.5 54.3h2.94M344.35 221.3h2.92M341.74 168.3h3.39M347.96 215.3h2.09M378.39 51.3h4.08M430.71 27.3h2.01M385.72 125.3h2.39M388.54 58.3h3.85M410.13 86.3h3.39M421.04 118.3h3.46M371.78 79.3h3.89M430.75 166.3h3.97M387.41 92.3h3.07M439.8 53.3h3.7M377.2 186.3h2.81M405.33 49.3h4.22M424.34 110.3h4.74M432.25 63.3h4.43M410.15 159.3h3.85M388.82 196.3h2.31M408.91 37.3h4.58M395.85 197.3h3.67M364.19 125.3h4.93M421.69 124.3h2.34M430.61 50.3h4.74M341.2 219.3h3.88M376.34 225.3h3.7M430.35 134.3h3.99M365.4 104.3h3.67M363.86 109.3h4.41M423.68 73.3h4.19M422.59 187.3h3.78M379.82 65.3h2.96M362.3 43.3h3.45M420.21 81.3h3.77M371.11 194.3h4.88M366.19 151.3h4.9M402.74 194.3h4.05M382.06 95.3h3.15M346.2 46.3h3.66M413.19 44.3h3.36M355.29 193.3h4.56M411.06 147.3h4.99M349.02 54.3h2.91M394.31 183.3h4.39M410.06 34.3h3.49M382.23 99.3h2.87M387.33 115.3h3.77M424.13 120.3h2.22M358.03 53.3h4.61M397.7 72.3h4.3M373.71 141.3h3.22M347.75 38.3h4.35M398.62 180.3h4.31M344.34 212.3h3.8M412.23 167.3h2.12M395.96 32.3h2.96M426.47 218.3h5M387.28 138.3h4.33M390.31 36.3h2.22M404.9 107.3h2.79M412.61 29.3h2.73M347.29 121.3h3.67M381.16 176.3h3.81M438 73.3h4.49M370.02 187.3h4.86M353.38 199.3h3.27M366.53 91.3h2.38M374.74 56.3h4.8M359.5 196.3h4.54M386.62 141.3h2.04M375.04 197.3h2.39M386.96 73.3h2.6M359.02 60.3h4.57M343.56 83.3h2.2M357.08 108.3h2.9M358.29 172.3h2.99M341.6 175.3h4.96M376.57 134.3h2.55M434.67 42.3h3.54M411.53 160.3h4.28M367.76 114.3h2.73M429.05 86.3h3.04M402.49 49.3h2.15M386.88 130.3h3.68M362.45 92.3h2.13M399.97 94.3h2.3M384.02 139.3h2.46M370 41.3h4.21M426.3 40.3h3.65M363.05 138.3h3.95M355.99 163.3h4.94M378.12 121.3h4.62M361.73 70.3h3.09M374.23 89.3h4.87M361.31 200.3h3.78M357.42 196.3h4.06M384.95 80.3h3.01M382.65 80.3h4.22M397.64 70.3h3.08M425.14 135.3h2.47M432.86 162.3h3.48M391 156.3h2.6M381.49 160.3h2.83M367.66 196.3h2.48M400.85 168.3h4.39M397.7 143.3h3.58M372.48 158.3h4.69M438.56 168.3h3.75M384.12 127.3h3.04M368.44 54.3h3.35M402.57 105.3h3.44M353.93 208.3h4.21M412.78 53.3h3.81M349.62 27.3h2.18M395.14 139.3h2.76M358.21 184.3h2.24M428.72 144.3h3.16M375.83 219.3h4.53M406.29 141.3h2.23M440.55 192.3h2.95M429.68 43.3h2.99M388.68 128.3h3.24M368.03 178.3h2.94M433.05 219.3h3.35M373.25 93.3h4.44M382.39 32.3h4.54M432.74 69.3h3.9M343.92 176.3h4.71M410.82 43.3h2.1M401.26 96.3h4.46M341.2 100.3h1.99M358.84 111.3h3.41M402.32 127.3h3.77M376.79 192.3h2.7M368.42 171.3h3.89M428.45 40.3h3.77M421.77 58.3h2.84M374.8 51.3h4.25M426.2 40.3h2.06M412.24 154.3h2.47M365.49 105.3h3.33M423.82 111.3h4.77M419.15 123.3h4.35M408.07 47.3h3.01M399.85 80.3h3.32M351.67 44.3h4.92M375.02 129.3h3.95M374.52 198.3h2.69M432.28 46.3h3.8M398.2 113.3h3.57M364.33 66.3h3.58M401.67 120.3h2.18M404.32 137.3h4.24M417.13 127.3h4.89M422.97 136.3h4.64M388.71 162.3h4.19M414.17 91.3h4.11M409.23 207.3h2.8M381.19 104.3h2.24M440.68 112.3h2.82M397.59 96.3h3.46M395.02 182.3h3.18M368.53 47.3h3.38M358.27 171.3h2.87M401.35 29.3h4.07M385.44 36.3h4.65M401.39 116.3h3.85M406.66 144.3h2.42M375.1 40.3h3.75M427.71 39.3h4.6M372.83 117.3h3.95M381.49 145.3h4.16M370.78 141.3h3.16M440.29 150.3h3.21M394.68 35.3h4.87M377.2 120.3h2.07M374.99 111.3h2.94M364.71 57.3h3.57M385.7 149.3h2.39M371.23 112.3h2.84M420.86 84.3h4.59M390.67 121.3h4.43M371.04 200.3h2.1M388.96 225.3h2.88M390.13 64.3h3.13M424.79 142.3h2.07M390.49 188.3h4.6M410.37 107.3h2.76M383.41 94.3h3.81M392.53 90.3h4.15M406.72 54.3h2.3M382.31 28.3h2.85M400.47 53.3h4.06M398.12 81.3h4M373.43 193.3h2.53M388.39 149.3h2.02M380.12 43.3h2.58M429.02 85.3h2.97M360.32 99.3h4.24M396.74 183.3h4.04M406.13 69.3h3.29M417.88 128.3h4.85M397.78 145.3h2.91M403.39 89.3h2.37M359.82 34.3h2.77M430.87 152.3h2.05M407.17 186.3h4.48M377.47 55.3h4.31M400.64 38.3h3.93M404.29 76.3h3.43M389.55 83.3h3.78M433.46 38.3h4.9M351.59 37.3h3.77M411.32 35.3h4.22M424.36 179.3h2.41M429.14 54.3h3.22M390.92 38.3h4.3M375.18 180.3h3.37M426.97 183.3h2.74M368.61 64.3h3.79M362.53 84.3h3.31M365.27 203.3h3.91M381.18 133.3h4.37M351.46 33.3h3.5M435.53 192.3h2.78M380.83 114.3h2.79M407.02 170.3h4.8M395.57 112.3h3.38M351.14 178.3h2.11M407.71 93.3h3.83M435.36 105.3h4.68M368.45 217.3h3.22M383.26 95.3h3.51M358.41 64.3h2.03M395.05 71.3h3.21M347.91 157.3h3.47M373.24 94.3h4.27M425.15 116.3h4.17M401.63 89.3h4.89M379.94 104.3h2.94M374.94 182.3h3.78M346.96 38.3h4M423.17 81.3h2.78M385.61 149.3h4.85M401.23 218.3h2.13M382.02 60.3h2.81M425.16 104.3h2.59M364.86 50.3h3.59M404.12 33.3h2.68M430.93 31.3h3.29M373.42 223.3h2.51M412.1 94.3h4.18M401.97 177.3h2.83M361.72 123.3h3.85M389.02 107.3h2.9M404.81 220.3h4.03M396.24 69.3h2.76M420.51 134.3h3.6M362.7 111.3h2.5M406.9 141.3h4.28M372.07 53.3h2.58M347.5 213.3h2.01M376.94 70.3h2.04M373.44 213.3h2.42M356.79 125.3h3.69M344.8 130.3h2.17M379.91 183.3h2.5M375.58 100.3h3.42M421.96 28.3h2.75M387.58 34.3h2.37M379.86 188.3h4.87M440.25 162.3h2.43M372.48 208.3h3.64M402.02 220.3h4.02M405.71 188.3h4.01M374.01 180.3h3.38M431.16 175.3h3.1M401.97 193.3h3.38M390.28 85.3h4.24M385.9 49.3h4.44M433.2 68.3h4.84M375 39.3h3.21M404.44 201.3h2.12M343.79 122.3h4.86M427.25 167.3h4M351.16 79.3h2.74M390.28 115.3h2.25M382.56 190.3h3.18M417.55 68.3h2.47M408.8 129.3h4.63M355.31 99.3h3.44M393.95 45.3h3.41M361.19 137.3h4.09M344.66 144.3h3M352.52 223.3h4.24M341.2 195.3h3.29M343.19 219.3h3.98M378.69 91.3h2.5M410.39 30.3h3.55M374.21 209.3h2.31M374.86 53.3h3.97M437.19 114.3h2.54M426.01 69.3h4.72M345.05 127.3h3.18M381.98 171.3h4.8M385.77 91.3h3.97M413.46 38.3h3.23M427.4 77.3h2.32M389.37 111.3h2.27M352.65 186.3h2.73M366.09 146.3h2.56M364.16 106.3h3.26M366.49 60.3h4.11M400.81 44.3h2.65M381.68 223.3h2.07M366.09 80.3h2.99M344.33 119.3h4.78M382.99 82.3h2.44M416.23 114.3h4.27M407.25 157.3h2.62M364.32 137.3h2.52M422.14 151.3h2.02M366.85 182.3h4.04M404.04 169.3h2.76M408.72 74.3h3.71M384.67 172.3h2.2M376.43 142.3h2.91M427.4 76.3h4.2" stroke="#f26f21" stroke-width="1" opacity="0.9" fill="none"/>
<path d="M374.7 162.3h5.96M377.24 82.3h3.34M381.84 39.3h5.53M341.2 223.3h3.32M369.06 132.3h2.03M392.09 149.3h5.56M363.88 73.3h2.8M397.04 218.3h3.79M349.15 163.3h3.88M349.14 54.3h3.94M346.63 128.3h5.06M370.27 58.3h4.8M377.06 152.3h4.26M434.14 127.3h5.85M416.34 66.3h4.02M411.63 96.3h3.5M440.53 142.3h2.97M419.74 213.3h3.89M374.36 174.3h4.8M344.14 176.3h5.63M382.38 82.3h3.3M425.24 35.3h2.54M414.37 207.3h2.03M396.75 65.3h5.52M419.12 90.3h5.56M346.22 71.3h5.33M394.45 126.3h3.74M440.65 53.3h2.34M341.2 151.3h2.09M356.04 150.3h4.02M344.99 46.3h4.45M434.04 126.3h2.9M373.77 88.3h3.77M358.28 169.3h4.71M402.37 56.3h2.19M395.86 174.3h5.89M407.61 81.3h3.87M403.26 75.3h4.95M375.85 84.3h5.21M361.36 38.3h5.09M371.61 72.3h5.02M425.83 192.3h2.46M390.7 109.3h4.49M383.73 125.3h2.71M363.31 105.3h3.99M423.59 164.3h4.44M400.81 169.3h3.85M398.17 155.3h2.62M375.71 90.3h4.49M391.84 127.3h2.2M387.66 78.3h3.7M410.19 92.3h5.7M400.53 149.3h4.28M369.57 107.3h5.39M409.16 209.3h3.63M392.05 115.3h3.36M423.45 221.3h2.51M404.97 100.3h4.26M346.31 137.3h3.55M416.43 48.3h2.86M389.44 135.3h5.64M396.05 176.3h3.23M385.73 138.3h5.6M369.38 51.3h2.35M369.67 103.3h3.43M372.35 27.3h2.13M407.76 203.3h4.65M355.45 106.3h3.64M398.78 172.3h4.38M383.47 67.3h2.18M406.86 117.3h4.35M378.74 86.3h3.87M436.13 153.3h2.13M435.21 158.3h4.25M440.51 204.3h2.99M432.31 116.3h5.72M423.98 219.3h2.86M372.28 101.3h5.15M407.96 30.3h2.12M383.05 177.3h2.93M403.97 37.3h4.84M407.99 167.3h2.81M402.19 172.3h4.82M404.86 131.3h4.92M439.39 91.3h4.11M401.31 130.3h2.12M367.58 83.3h3.32M397.25 59.3h5.77M415.01 32.3h4.13M440.53 99.3h2.97M437.91 92.3h2.34M408.57 197.3h4.07M370.38 114.3h2.62M421.19 187.3h2.08M391.01 105.3h3.7M346.53 217.3h2.43M363.83 124.3h5.58M398.86 51.3h3.14M366.98 179.3h5.13M405.67 39.3h5.82M416.28 67.3h2.85M393.28 107.3h3.38M439.09 216.3h2.67M370.11 176.3h2.02M400.16 100.3h5.16M360.5 136.3h3.51M349.08 190.3h2.01M381.77 162.3h2.21M368.19 141.3h5.39M387 101.3h2.52M383.66 101.3h5.65M351.75 213.3h3.07M367.82 122.3h5.87M411.54 27.3h3.6M364.65 110.3h5.67M390.33 206.3h3.31M397.8 62.3h5.82M363.53 91.3h2M381.95 129.3h3.65M353.23 220.3h3.66M370.09 122.3h3.06M410.75 214.3h5.12M426.66 160.3h3.04M406.66 144.3h2.19M372.87 40.3h5.47M379.67 31.3h4.59M391.42 169.3h3.86M402.78 106.3h3.8M377.06 193.3h5.83M396.07 106.3h3.28M365.36 151.3h3.7M362.71 177.3h3.38M382.19 43.3h4.4M436.82 82.3h3.48M396.8 145.3h5.35M395.67 105.3h4.23M366.65 110.3h3.58M398.36 44.3h2.31M379.96 130.3h3.5M416.27 215.3h3.18M426.54 175.3h2.29M395.29 185.3h2.11M393.02 226.3h4.19M374.44 57.3h2.8M392.49 59.3h3.61M341.2 97.3h2.37M426.19 38.3h3.78M395.76 45.3h4.82M345.51 70.3h5.17M347.19 103.3h3.13M383.57 118.3h4.45M364.83 137.3h5.31M401.74 66.3h2.48M386.13 126.3h5.21M352.24 41.3h3.64M405.18 38.3h4.12M401.1 75.3h3.52M405.74 148.3h5.42M350.53 198.3h5.69M388.75 112.3h3.46M432.15 176.3h3.94M404.35 123.3h5.08M377.39 136.3h5.59M393.11 109.3h4.06M425.44 173.3h4.29M359.64 68.3h2.42M429.98 81.3h5.16M371.41 99.3h3.32M433.04 184.3h5.4M372.44 32.3h2.36M411.12 204.3h4.57M377.58 75.3h3.21M403.62 66.3h4.45M366.43 151.3h3.33M433.5 148.3h3.78M352.88 96.3h3.19M341.2 112.3h4.39M341.2 69.3h4.01M351.92 46.3h2.9M354.07 192.3h4.86M386.74 30.3h4.88M353.66 77.3h3.11M370.06 127.3h2.76M397.33 131.3h3.87M407.44 184.3h2.06M398.95 108.3h4.4M389.23 36.3h4.85M377.91 175.3h2.57M368.05 36.3h3.58M398.62 94.3h5.42M341.2 171.3h4.96M397.94 86.3h4.28M385.8 50.3h3.6M380.32 48.3h3.07M375.95 67.3h4.5M384.31 119.3h2.16M383.46 203.3h3.13M361.49 203.3h4.44M402.53 71.3h4.18M371.83 106.3h3.34" stroke="#ee3f24" stroke-width="1" opacity="0.85" fill="none"/>
<path d="M382.93 30.3h9.72M394.39 33.3h7.63M387.08 43.3h12.04M383.6 47.3h14.16M393.43 49.3h3.38M381.98 55.3h11.19M383.04 58.3h15.4M388.2 79.3h3.99M385.79 82.3h3.46M389.93 84.3h9.78M389.15 91.3h8.42M389.36 99.3h9.25M390.61 103.3h7.9M386.85 111.3h6.91M392.72 114.3h3.82M392.08 118.3h3.31M388.27 121.3h9.86M388.46 124.3h7.48M389.03 131.3h11.67M387.91 143.3h5.47M388.94 149.3h5.58M387.55 153.3h8.43M389.17 159.3h4.64M388.72 188.3h6.25M388.67 190.3h11.68M391.35 192.3h9.2M382.64 196.3h12.06M390.77 206.3h4.75" stroke="#f26522" stroke-width="1" opacity="0.85" fill="none"/>
<path d="M390.52 27.3h5.24M391.05 28.3h4.19M386.17 29.3h10.74M384.13 34.3h8.22M391.46 35.3h6.88M392.32 37.3h4.25M382.51 39.3h6.61M382.96 41.3h22.35M387.95 44.3h3.72M393.96 48.3h3.36M386.76 57.3h5.27M387.18 61.3h9M389.19 64.3h7.85M385.46 65.3h6.14M386.63 66.3h3.28M391.73 67.3h3.28M388.6 71.3h7.54M388.51 72.3h9.11M386.93 80.3h17.07M389.29 81.3h4.56M389.02 88.3h3.77M383.58 89.3h18.85M386.55 92.3h7.83M389.63 93.3h5.69M389.54 95.3h5.35M391.08 98.3h3.07M389.86 100.3h3.64M388.23 107.3h11.3M394.23 112.3h3.95M389.55 115.3h5.5M373.46 116.3h33.3M389.6 117.3h6.05M389.72 120.3h4.49M383.63 132.3h7.51M394.81 134.3h5.63M392.82 137.3h8.4M388.71 142.3h9.61M385.83 150.3h9.2M389.21 154.3h10.6M382.12 161.3h18.42M388.51 162.3h5.93M388.54 164.3h9.82M391.69 166.3h5.37M389.41 169.3h6.7M385.23 171.3h6.8M390.61 175.3h5.09M397.77 179.3h3.4M388.61 184.3h4.32M385.36 185.3h5.69M383.16 193.3h14.97M386.29 210.3h9.18M391.66 213.3h3.93M388.95 219.3h8.29M392.51 225.3h3.83" stroke="#ee3324" stroke-width="1" opacity="0.9" fill="none"/>
<path d="M388.75 27.3h6.47M389.4 28.3h6.19M388.92 29.3h6.46M389.53 30.3h5.94M389.13 31.3h6.66M388.39 32.3h7.4M388.82 33.3h7.02M389.26 34.3h6.13M388.49 35.3h6.77M388.95 36.3h6.57M388.69 37.3h7.19M389.12 39.3h6.24M388.45 40.3h7.66M389.17 41.3h6.92M388.43 42.3h7.58M389.47 43.3h5.99M388.53 44.3h7.8M388.73 45.3h6.95M388.58 46.3h6.69M389.03 48.3h6.71M388.37 49.3h7.58M389.52 50.3h6.65M389.23 51.3h6.33M388.42 52.3h7.9M389.04 53.3h7.17M389.23 54.3h6.99M388.59 55.3h7.11M388.96 56.3h7.18M389.24 57.3h7.09M389.16 58.3h6.46M388.37 59.3h6.92M389.53 60.3h6.53M388.99 61.3h6.18M389.07 62.3h7.17M388.65 63.3h6.6M388.65 64.3h7.23M389.43 65.3h6.27M388.72 66.3h6.82M388.75 67.3h6.41M389.42 68.3h6.73M388.74 69.3h7.24M388.79 70.3h7.17M388.73 71.3h6.97M388.4 72.3h7.7M388.63 73.3h6.59M389.4 74.3h5.76M388.61 75.3h6.89M388.82 76.3h7.5M388.97 77.3h7.31M389.26 78.3h6.79M389.47 79.3h6.14M388.35 80.3h7.08M389.08 81.3h6.24M389.49 83.3h6.81M389.14 84.3h6.25M388.97 85.3h6.59M388.35 88.3h7.81M388.48 89.3h7.15M388.89 90.3h6.6M389.4 91.3h6.92M389.17 92.3h6.9M389.41 93.3h5.88M389.13 94.3h7.21M389.08 95.3h7.17M389.36 96.3h6.08M389.02 97.3h7.21M388.91 98.3h7.14M388.75 99.3h6.94M389.21 101.3h6.78M388.8 102.3h6.9M388.9 103.3h7.01M389.53 105.3h6.68M388.43 107.3h7.65M388.52 108.3h7.17M389.17 109.3h6.59M389.03 110.3h6.18M388.87 111.3h7.14M389.17 112.3h6.64M389.04 113.3h6.48M389.04 114.3h6.24M388.8 115.3h6.49M388.46 116.3h7.32M389.26 117.3h6.49M389.21 118.3h6.45M388.37 119.3h7.92M388.54 120.3h7.26M388.43 121.3h7.37M389.36 122.3h6.55M389.09 123.3h6.81M389.15 124.3h6.05M388.95 125.3h7.09M388.59 126.3h7.46M389.4 127.3h5.86M389.02 128.3h6.14M388.78 129.3h6.78M389.29 130.3h6.01M389.05 131.3h6.39M388.9 132.3h7.12M388.71 133.3h7.3M388.95 134.3h7.3M389.48 135.3h6.36M388.78 136.3h6.8M389.19 137.3h6.09M388.61 138.3h7.26M388.45 139.3h7.09M389.49 140.3h6.71M388.61 141.3h6.69M388.86 142.3h6.43M388.79 143.3h7.05M388.8 145.3h7.26M389.26 146.3h6.72M388.93 147.3h6.48M388.64 148.3h7.29M388.64 149.3h6.77M388.54 150.3h7.23M389.3 151.3h6.18M389.53 152.3h6.35M388.63 153.3h7.04M388.6 154.3h7.61M389.36 155.3h6.31M389.15 156.3h6.46M389.23 157.3h6.21M389.23 158.3h6.52M389.02 159.3h7.15M389.38 160.3h6M389.23 161.3h7.04M388.66 162.3h7.67M389.14 163.3h6.23M389.44 165.3h5.88M388.99 166.3h6.85M388.66 167.3h6.59M389.11 168.3h6.41M388.58 169.3h7.44M388.92 170.3h6.81M388.49 171.3h7.09M388.35 172.3h6.94M388.43 173.3h7.34M388.48 174.3h7.32M388.77 175.3h6.65M388.48 177.3h7.16M388.56 178.3h7.09M388.65 179.3h7.17M388.56 180.3h7M389.21 181.3h6.75M388.8 182.3h6.79M388.79 183.3h6.66M388.95 184.3h6.82M388.89 185.3h6.57M388.49 186.3h7.68M388.98 187.3h7.24M388.71 188.3h6.75M389 189.3h6.56M389.14 190.3h6.42M388.4 191.3h7.88M389.38 192.3h6.94M389.2 193.3h7.08M389.14 194.3h7.12M388.74 195.3h7.54M389.31 197.3h6.88M389.16 198.3h6.82M388.73 199.3h7.33M388.96 200.3h6.86M388.76 201.3h6.54M388.94 202.3h6.88M388.43 203.3h7.82M388.49 204.3h7.72M388.44 205.3h7.18M389.43 206.3h5.91M388.46 207.3h7.44M389.08 208.3h7.12M389.39 209.3h6.21M388.35 210.3h7.6M388.43 211.3h6.95M389 212.3h6.46M388.86 213.3h7.32M389.43 214.3h6.02M389.05 215.3h6.68M388.63 216.3h6.81M388.44 217.3h6.79M389.45 218.3h6.83M388.84 219.3h6.31M388.36 220.3h6.95M388.66 221.3h6.52M389.2 222.3h6.81M388.58 223.3h6.85M389.48 224.3h6.17M388.72 225.3h6.84M388.51 226.3h7.35M388.79 227.3h7.16" stroke="#ed2724" stroke-width="1.1" fill="none"/>
<path d="M388.54 38.3h7.68M389.22 47.3h6.53M389.54 82.3h5.71M389.19 86.3h6.99M389.36 87.3h6.68M388.35 100.3h7.72M389.35 104.3h6.01M389.44 106.3h6.06M389.42 144.3h6.67M388.62 164.3h7.69M389.28 176.3h6.45M388.9 196.3h7.04" stroke="#f6961e" stroke-width="1.1" fill="none"/>
<rect x="340.7" y="26.8" width="103.3" height="201.2" fill="none" stroke="#4d4a48" stroke-width="1.3"/>
</g>
<line x1="340.7" y1="228.5" x2="340.7" y2="231.6" stroke="#808285" stroke-width="0.9"/>
<text transform="translate(335.62 245.8) scale(1.05 1)" font-size="10.7" letter-spacing="0.8" fill="#231f20">-2</text>
<line x1="366.52" y1="228.5" x2="366.52" y2="231.6" stroke="#808285" stroke-width="0.9"/>
<text transform="translate(361.43 245.8) scale(1.05 1)" font-size="10.7" letter-spacing="0.8" fill="#231f20">-1</text>
<line x1="392.35" y1="228.5" x2="392.35" y2="231.6" stroke="#808285" stroke-width="0.9"/>
<text transform="translate(389.52 245.8) scale(1.05 1)" font-size="10.7" letter-spacing="0.8" fill="#231f20">0</text>
<line x1="418.18" y1="228.5" x2="418.18" y2="231.6" stroke="#808285" stroke-width="0.9"/>
<text transform="translate(415.2 245.8) scale(1.05 1)" font-size="10.7" letter-spacing="0.8" fill="#231f20">1</text>
<line x1="444" y1="228.5" x2="444" y2="231.6" stroke="#808285" stroke-width="0.9"/>
<text transform="translate(441.18 245.8) scale(1.05 1)" font-size="10.7" letter-spacing="0.8" fill="#231f20">2</text>
<text transform="translate(381.66 22.3) scale(1.0 1)" font-size="15" letter-spacing="0.68" fill="#231f20">Rb</text>
<g>
<rect x="461.2" y="27.8" width="101.7" height="202.6" fill="#f9ec13"/>
<rect x="461.2" y="27.8" width="101.7" height="202.6" filter="url(#n4)" mask="url(#m4)"/>
<rect x="482.05" y="27.8" width="60" height="202.6" fill="url(#g4h)" mask="url(#m4)"/>
<path d="M496.36 28.3h5.32M494.86 29.3h7.31M496.36 30.3h6.45M501.56 31.3h1.27M494.59 33.3h8.06M494 34.3h8.66M500.13 35.3h1.69M494.82 36.3h7.62M493.34 37.3h8.75M498.68 40.3h4.24M500.9 41.3h1.41M500.34 42.3h1.84M500.62 44.3h2.01M498.11 46.3h4.04M499.5 47.3h2.4M500.56 49.3h1.82M501.22 52.3h1.84M501.19 53.3h1M501.04 54.3h1.02M499.64 56.3h2.4M499.38 57.3h2.69M498.11 59.3h3.77M497.43 60.3h5.31M495.42 61.3h7.66M501.41 62.3h1.29M495.23 65.3h7.76M500.79 69.3h1.51M500.99 70.3h1.01M496.2 71.3h6.49M500.59 73.3h1.34M499.14 75.3h3.04M501.38 79.3h1.71M500.53 81.3h1.39M500.91 82.3h1.4M501.74 83.3h1M500.09 84.3h2.29M498.07 85.3h4.64M500.93 86.3h1.27M499.59 88.3h3.27M495.61 92.3h6.36M498.65 97.3h4.6M500.09 99.3h2.07M499.85 102.3h2.81M495.42 104.3h7.02M500.96 105.3h2.16M500.17 111.3h3.08M499.81 127.3h3.34M502.07 128.3h1.08M501.21 132.3h1.44M496.65 135.3h5.65M496.82 139.3h6.39M497.6 151.3h4.93M502.4 154.3h1M502.23 155.3h1.26M502.51 156.3h1.08M500.04 158.3h2.47M497.21 166.3h5.35M498.08 169.3h5.09M502.57 171.3h1M500.56 172.3h2.46M501 175.3h1.74M497.46 182.3h5.9M502.31 185.3h1.1M498.86 189.3h4.69M521.74 28.3h1.05M521.24 30.3h1.4M521.3 31.3h5.26M521.67 32.3h6.41M521.6 33.3h2.78M521.8 35.3h1.17M521.44 36.3h6.18M522.1 38.3h3.36M521.61 39.3h5.37M521.82 41.3h3.59M521.57 42.3h4.52M521.96 43.3h8.39M521.51 46.3h1.01M521.87 47.3h6.75M521.99 48.3h1.48M521.66 52.3h2.6M521.99 57.3h4.3M522.2 60.3h1.57M521.44 62.3h4.09M521.56 63.3h2.41M521.39 64.3h2.16M521.84 65.3h4.18M521.14 67.3h7.87M522.16 69.3h1.46M521.8 70.3h3.12M521.28 72.3h1.65M521.69 74.3h6.94M521.3 75.3h5.41M521.88 76.3h4.9M521.73 77.3h1.1M521.67 78.3h3.07M520.96 79.3h1.14M522 82.3h2.91M521.49 83.3h6.93M521.61 84.3h3.74M521.91 85.3h1.15M521.51 88.3h1.96M522.02 91.3h1.3M521.87 92.3h4.26M521.42 94.3h4.54M521.72 97.3h1M520.88 100.3h2.83M521 101.3h7.24M521.54 105.3h1.02M521.43 108.3h5.91M520.86 116.3h2.88M521.38 117.3h3.12M520.91 119.3h2.52M521.87 120.3h5.5M521.01 121.3h6.51M521.54 123.3h4.04M520.79 126.3h1.21M521.67 128.3h3.63M521.45 129.3h6.62M521.07 130.3h4.62M521.63 131.3h2.32M520.66 132.3h4.38M521.42 135.3h1.11M521.34 138.3h1.86M520.76 140.3h3.61M521.17 148.3h4.24M520.89 154.3h2.71M521.51 155.3h1.07M521.18 156.3h4.79M521.04 157.3h1.71M521.68 163.3h4.09M521.67 173.3h3.74" stroke="#f26a22" stroke-width="1" opacity="0.7" fill="none"/>
<path d="M501.08 28.3h22.06M501.57 29.3h21.13M502.21 30.3h20.44M502.23 31.3h20.47M501.43 32.3h21.64M502.05 33.3h20.95M502.06 34.3h20.83M501.22 35.3h21.98M501.85 36.3h20.99M501.49 37.3h21.13M501.67 38.3h21.83M501.63 39.3h21.37M502.33 40.3h20.74M501.71 41.3h21.51M501.58 42.3h21.39M502 43.3h21.36M502.03 44.3h21.63M502.39 45.3h20.87M501.55 46.3h21.35M501.3 47.3h21.97M502.08 48.3h21.31M501.78 49.3h21.18M501.91 50.3h20.7M501.58 51.3h21.56M502.46 52.3h20.6M501.6 53.3h21.95M501.46 54.3h21.67M501.8 55.3h21.73M501.44 56.3h21.29M501.46 57.3h21.93M501.65 58.3h21.42M501.28 59.3h21.25M502.14 60.3h21.46M502.49 61.3h20.93M502.1 62.3h20.75M502.12 63.3h20.85M502.11 64.3h20.68M502.39 65.3h20.84M501.86 66.3h21.57M502.5 67.3h20.04M501.72 68.3h21.7M501.7 69.3h21.86M501.4 70.3h21.8M502.1 71.3h20.27M501.51 72.3h21.18M501.33 73.3h21.27M501.69 74.3h21.4M501.57 75.3h21.13M501.74 76.3h21.53M501.32 77.3h21.82M502.02 78.3h21.06M502.49 79.3h19.87M502.17 80.3h20.56M501.32 81.3h21.92M501.71 82.3h21.68M502.15 83.3h20.74M501.78 84.3h21.23M502.11 85.3h21.2M501.6 86.3h21.77M501.87 87.3h20.5M502.26 88.3h20.65M501.7 89.3h20.94M501.43 90.3h21.01M502.43 91.3h21M501.37 92.3h21.9M501.85 93.3h21.51M501.58 94.3h21.24M501.71 95.3h21.04M502.48 96.3h20.49M502.66 97.3h20.46M502.09 98.3h20.94M501.56 99.3h20.85M501.71 100.3h20.56M502.58 101.3h19.81M502.06 102.3h20.58M502.39 103.3h21.05M501.84 104.3h21.42M502.52 105.3h20.42M502.15 106.3h21.1M501.73 107.3h21.23M502.58 108.3h20.25M501.87 109.3h20.72M501.81 110.3h21.04M502.65 111.3h20.48M501.83 112.3h20.4M502.17 113.3h20.29M502.72 114.3h20.51M501.72 115.3h20.62M502.17 116.3h20.09M502.61 117.3h20.18M502.1 118.3h21.15M501.86 119.3h20.46M502.15 120.3h21.13M502.33 121.3h20.09M501.64 122.3h20.48M502.64 123.3h20.29M502.81 124.3h19.71M502.3 125.3h20.14M502.32 126.3h19.87M502.56 127.3h20.75M502.55 128.3h20.52M502.78 129.3h20.07M502.68 130.3h19.79M501.96 131.3h21.07M502.06 132.3h20.01M501.61 133.3h21.09M501.74 134.3h21.23M501.69 135.3h21.13M502.63 136.3h19.88M502.56 137.3h20.59M501.84 138.3h20.9M502.61 139.3h19.86M502.79 140.3h19.37M502.51 141.3h20.31M501.77 142.3h20.81M501.95 143.3h20.99M502.04 144.3h19.98M501.83 145.3h20.17M502.66 146.3h20.5M501.75 147.3h20.3M501.99 148.3h20.58M502.3 149.3h19.69M501.93 150.3h20.64M501.93 151.3h20.36M502.94 152.3h19.88M501.69 153.3h20.34M502.8 154.3h19.49M502.9 155.3h20.01M502.98 156.3h19.59M502.78 157.3h19.66M501.91 158.3h20.82M502.3 159.3h19.96M502.49 160.3h19.66M501.9 161.3h20.85M502.71 162.3h20.06M502.05 163.3h21.02M502.32 164.3h19.64M502.4 165.3h19.56M501.96 166.3h21.09M503.02 167.3h19.82M502.84 168.3h19.97M502.58 169.3h20.37M502.19 170.3h20.64M502.98 171.3h19.79M502.42 172.3h20.71M502.02 173.3h21.05M502.36 174.3h19.6M502.14 175.3h20.27M502.63 176.3h20.43M503.08 177.3h19.17M503.07 178.3h19.12M502.68 179.3h20.2M501.91 180.3h21.02M501.94 181.3h21.07M502.76 182.3h19.89M503.05 183.3h19.98M502.48 184.3h20.55M502.81 185.3h19.19M502.29 186.3h20.48M501.93 187.3h19.86M502.15 188.3h20.38M502.94 189.3h19.5M502.76 190.3h19.41M502.46 191.3h20.2M502.04 192.3h20.61M501.99 193.3h20.57M502.69 194.3h19.83M502.79 195.3h19.26M502.33 196.3h20.24M503.06 197.3h18.88M502.34 198.3h19.85M502 199.3h20.88M502.38 200.3h19.65M502.69 201.3h20.01M502.74 202.3h19.84M502.38 203.3h19.95M503.01 204.3h19.43M502.31 205.3h19.47M502.69 206.3h19.52M502.82 207.3h20.1M502.67 208.3h19.74M502.95 209.3h18.84M502.21 210.3h20.21M503.18 211.3h18.87M502.57 212.3h20.27M502.69 213.3h20.12M502.46 214.3h19.38M502.79 215.3h19.88M503.11 216.3h18.98M502.3 217.3h19.58M502.71 218.3h19.75M503.1 219.3h18.61M502.22 220.3h19.56M502.65 221.3h19.98M503.14 222.3h19.09M502.71 223.3h19.71M502.65 224.3h19.81M503.07 225.3h19.33M502.63 226.3h19.6M503.3 227.3h18.73M502.88 228.3h19.59M503.15 229.3h18.71M502.95 230.3h19.33" stroke="url(#g4s)" stroke-width="1.1" fill="none"/>
<path d="M504.83 50.3h11.69M508.4 163.3h6.52M510.31 93.3h8.39M507.9 131.3h11.02M504.45 194.3h12.15M505.38 144.3h4.98M507.56 223.3h8.96M502.81 219.3h6.59M506.88 69.3h4.21M507.14 220.3h11.39M511.24 212.3h6.72M508.57 181.3h12.42M508.6 122.3h11.12M502.75 167.3h11.21M506.28 56.3h6.64M510.93 150.3h12.61M510.44 216.3h4.26M507.48 174.3h9.96M509.94 149.3h4.47M510.9 206.3h8.28M502.64 168.3h11.41M503.08 207.3h8.47M511.78 91.3h10.65M507.39 211.3h11.17M506.84 110.3h9.42M505.51 212.3h4.13M504.32 156.3h5.78M510.72 106.3h7.82M505.17 132.3h9.28M508.62 160.3h10.99M505.66 209.3h8.57M509.49 207.3h5.28M505.94 163.3h9.56M508.32 117.3h8.96M508.83 179.3h7.12M502.89 117.3h9.88M504.19 213.3h7.32M510.73 91.3h10.12M506.91 223.3h6.4M505.33 162.3h7.34M507.4 198.3h5.72M510.17 131.3h9.47M509.94 211.3h4.4M509.02 128.3h7.37M509.31 153.3h6.33M504.05 64.3h7.53M502.44 172.3h5.11M509.52 188.3h9.46M506.05 188.3h12.11M510.03 88.3h10.43M511.76 198.3h6.52M506.79 134.3h5.85M507.02 151.3h7.15M504.27 207.3h10.41M505.88 191.3h12.13M502.93 212.3h6.59M510.4 170.3h10.65M509.21 187.3h8.59M502.83 217.3h9.88M507.19 167.3h4.24M509.07 73.3h9.41M507.45 164.3h4.07M511.77 168.3h9.55M502.1 219.3h12.23M507.7 160.3h11.52M508.56 118.3h11.02M507.58 223.3h6.8M502.24 108.3h5.95M511.29 42.3h10.77M508.6 228.3h6.12M510.34 109.3h11.7M508.86 83.3h7.06M504.2 79.3h7.53M510.77 80.3h11.4M503.88 171.3h10.35M509.63 171.3h12.42M510.13 202.3h10.98M503.87 206.3h9.34M503.67 148.3h9.64M509.11 206.3h4.95M511.25 116.3h4.94M504.44 150.3h5.52M503.13 204.3h11.44M508.31 139.3h6.45M506.84 195.3h11.01M510.89 175.3h7.81M502.49 106.3h9.27M508.01 185.3h4.03M511.27 192.3h8.15M502.51 142.3h12.7M502.16 135.3h6.15M511.55 90.3h11.51M504.33 217.3h4.58M508.82 114.3h6.14M508.4 137.3h8.15M504.98 83.3h6.22M502.76 164.3h5.74M504.56 97.3h7.25M504.59 91.3h8.56M510.63 163.3h12.31M504.99 127.3h9.21M503.01 112.3h12.01M503.39 40.3h11.87M509.14 191.3h8.37M509.11 171.3h8.5M510.3 227.3h6.44M507.17 214.3h7.42M511.9 173.3h10.63M507.32 150.3h7.28M505.36 204.3h11.39M511.77 137.3h11.28M505.06 93.3h7.91M507.42 155.3h9.06M506.36 202.3h5.07M502.18 194.3h7.36M511.6 39.3h9.6M506.82 136.3h5.15M503.32 67.3h4.57M506.64 137.3h10.21M511.36 149.3h5.97M507.79 105.3h9.62M503.95 133.3h11.71M505 105.3h10.7M507.49 227.3h9.91M503.64 138.3h12.44M507.15 194.3h12.76M506.12 167.3h6.02M509.78 98.3h12.42M503.39 88.3h11.3M508.1 80.3h12.71M503.06 73.3h11.16M506.15 106.3h11.6M502.52 157.3h12.86M502.11 175.3h12.6M505.98 115.3h12.2M511.61 204.3h9.75M503.47 227.3h9.63M507.09 164.3h11.47M503.11 217.3h10.02M504.4 131.3h7.91M511.31 114.3h10.9M504.56 217.3h8.21M509.44 134.3h6.54M508.25 196.3h7.73M509.62 218.3h12.83M510.85 193.3h5.92M505.46 228.3h11.36M508.1 123.3h7.27M511.88 212.3h5.54M511.51 225.3h12.53M503.89 115.3h11.38M508.19 164.3h11.27M509.52 119.3h8.86M502.86 160.3h9.75M506.5 222.3h12.92M506.55 63.3h12.44M504.07 160.3h8.25M506.73 210.3h12.64M504.54 130.3h12.82M506.79 226.3h5.44M502.75 213.3h12.71M504.82 73.3h11.97M503.89 84.3h6.06M507.05 216.3h10.52M509.64 123.3h11.08M508.1 131.3h11.96M508.82 163.3h4.75M510.13 183.3h6.17M504.05 217.3h4.08M502.47 96.3h11.25" stroke="#f58220" stroke-width="1" opacity="0.5" fill="none"/>
<rect x="461.2" y="27.8" width="101.7" height="202.6" fill="none" stroke="#4d4a48" stroke-width="1.3"/>
</g>
<line x1="461.2" y1="230.9" x2="461.2" y2="234" stroke="#808285" stroke-width="0.9"/>
<text transform="translate(456.12 245.8) scale(1.05 1)" font-size="10.7" letter-spacing="0.8" fill="#231f20">-2</text>
<line x1="486.62" y1="230.9" x2="486.62" y2="234" stroke="#808285" stroke-width="0.9"/>
<text transform="translate(481.53 245.8) scale(1.05 1)" font-size="10.7" letter-spacing="0.8" fill="#231f20">-1</text>
<line x1="512.05" y1="230.9" x2="512.05" y2="234" stroke="#808285" stroke-width="0.9"/>
<text transform="translate(509.22 245.8) scale(1.05 1)" font-size="10.7" letter-spacing="0.8" fill="#231f20">0</text>
<line x1="537.48" y1="230.9" x2="537.48" y2="234" stroke="#808285" stroke-width="0.9"/>
<text transform="translate(534.5 245.8) scale(1.05 1)" font-size="10.7" letter-spacing="0.8" fill="#231f20">1</text>
<line x1="562.9" y1="230.9" x2="562.9" y2="234" stroke="#808285" stroke-width="0.9"/>
<text transform="translate(560.08 245.8) scale(1.05 1)" font-size="10.7" letter-spacing="0.8" fill="#231f20">2</text>
<text transform="translate(485.56 22.3) scale(1.0 1)" font-size="15" letter-spacing="0.71" fill="#231f20">HDAC1</text>
<g>
<rect x="583" y="27.8" width="103.2" height="202.6" fill="#f9ec13"/>
<rect x="583" y="27.8" width="103.2" height="202.6" filter="url(#n5)"/>
<rect x="618.6" y="27.8" width="32" height="202.6" fill="url(#g5h)" mask="url(#m5)"/>
<path d="M627.84 175.3h2.07M607.58 51.3h4.58M622.72 106.3h3.87M622.09 136.3h4.27M637.8 48.3h3.66M622.57 197.3h5.22M627.61 64.3h2.64M639 153.3h2.04M616.21 192.3h4.52M617.64 138.3h3.24M637.76 144.3h3.81M647.27 46.3h5.25M651.18 151.3h5.38M628.22 30.3h2.65M635.56 94.3h3M643.32 189.3h2.22M633.34 130.3h3.95M642.04 42.3h3.58M614.74 127.3h4.45M648.25 54.3h5.66M629.83 120.3h3.4M634.78 205.3h2.67M631.74 188.3h3.75M630.92 52.3h3.47M626.93 41.3h3.71M646.36 75.3h4.34M643.83 72.3h4.98M610.03 143.3h2.13M643.85 215.3h4.41M633.08 64.3h3.15M638.19 29.3h2.14M612.31 112.3h4.63M643.21 51.3h5.71M627.95 122.3h3.81M634.4 82.3h2.19M647.47 54.3h5.78M638.51 83.3h3.32M661.35 58.3h3.42M638.63 29.3h2.36M624.08 35.3h5.39M628.43 52.3h2.18M630.88 64.3h4.4M646.71 75.3h3.98M622.09 127.3h4.8M638.53 78.3h5.05M647.66 73.3h2.79M638.96 87.3h4.44M636.96 106.3h4.48M631.33 40.3h2.94M620.28 65.3h4.84M647.2 198.3h2.5M630.48 36.3h3.46M650.45 51.3h3.11M626.79 56.3h5.66M628.84 136.3h2.32M638.58 152.3h5.65M660.49 30.3h2.26M628.63 184.3h5.89M647.8 138.3h5.82M618.53 149.3h5.67M653.3 41.3h5.68M648.98 100.3h5.53M632.21 96.3h3.41M619.69 135.3h2.34M619.15 77.3h5.4M619.39 141.3h5.32M641.86 31.3h2.63M643.23 28.3h5.13M619.35 83.3h4.19M655.23 137.3h5.52M626.81 187.3h4.39M605.91 63.3h3.27M617.49 96.3h3.02M650.76 156.3h4.43M625.94 135.3h5.4M652.98 182.3h2.7M636.26 92.3h4.88M630.8 160.3h4.42M639.84 61.3h4.59M612.83 176.3h4.78M640.68 40.3h2.08M617.55 96.3h3.18M643.55 37.3h4.63M616.64 53.3h5.99M646.23 100.3h4.8M618.16 124.3h5.66M619.63 182.3h3.54M635.58 66.3h5.16M626.31 121.3h5.64M610.83 58.3h2.65" stroke="#f26f21" stroke-width="1" opacity="0.55" fill="none"/>
<path d="M634.27 28.3h2.08M634.28 30.3h1.84M634.5 31.3h2.14M633.94 32.3h2.33M634.26 33.3h2.36M634.09 34.3h2.03M634.42 35.3h2.24M633.94 36.3h2.56M634.14 37.3h2.15M634.06 38.3h2.03M633.77 39.3h2.37M633.88 40.3h2.66M633.88 41.3h2.81M634.23 42.3h1.99M634.34 43.3h2.24M634.38 44.3h2.11M633.89 45.3h2.17M634.12 46.3h2.35M633.74 47.3h2.91M633.83 48.3h2.87M634.17 49.3h2.18M634.3 50.3h1.84M634.27 51.3h2.37M633.7 52.3h2.44M633.89 53.3h2.65M634.29 54.3h2.03M633.91 55.3h2.76M633.96 56.3h2.5M633.83 57.3h2.42M634.07 58.3h1.88M633.83 60.3h2.33M634.35 61.3h1.93M633.99 62.3h2.52M633.73 63.3h2.64M634.43 64.3h2.23M634 65.3h2.48M634.22 66.3h1.87M634.23 67.3h2.1M633.72 68.3h2.93M633.79 69.3h2.59M634.24 70.3h1.93M634.45 71.3h1.51M634.36 72.3h1.7M634.49 74.3h1.71M634.32 75.3h1.94M634.38 77.3h1.66M633.72 78.3h2.35M633.9 79.3h2.33M634.21 81.3h1.73M634.46 82.3h1.87M633.79 84.3h2.14M634.24 85.3h1.86M634.42 86.3h1.87M633.86 88.3h2.36M634.46 89.3h1.73M633.87 90.3h2.52M634.28 91.3h1.79M634.46 92.3h1.53M633.71 93.3h2.84M633.75 95.3h2.39M633.79 96.3h2.52M634.46 97.3h1.47M634.25 98.3h2.02M634.35 100.3h2.34M633.86 101.3h2.32M634.42 102.3h2.08M633.86 103.3h2.73M633.93 104.3h2.76M634.45 105.3h1.89M634.32 107.3h1.92M634.36 108.3h1.77M633.94 109.3h2.73M634.45 110.3h2.15M633.97 112.3h2.23M634.44 113.3h1.49M634.12 114.3h2.51M634.03 115.3h2.31M634 116.3h2.44M634.06 118.3h2.21M633.89 119.3h2.28M634.13 120.3h2.51M634.38 121.3h2.06M633.93 122.3h2.44M634.01 124.3h2.08M634.21 126.3h1.76M634.36 127.3h1.62M634.14 128.3h1.91M633.77 129.3h2.76M634.35 130.3h1.78M634.13 131.3h2.28M633.86 132.3h2.29M633.78 133.3h2.66M634.28 134.3h1.97M633.8 135.3h2.21M633.97 137.3h2.66M634.45 138.3h1.98M634 139.3h2.28M634.39 140.3h2.26M633.73 141.3h2.71M634.4 142.3h1.7M633.99 144.3h2.42M634.38 145.3h1.72M634.44 146.3h1.6M633.82 147.3h2.84M633.84 148.3h2.7M633.86 149.3h2.44M634.01 150.3h1.96M633.87 153.3h2.57M634.08 155.3h2.48M634.1 156.3h1.84M634.3 157.3h2.03M634.02 158.3h1.96M634.17 159.3h1.95M634.09 161.3h2.31M634.48 163.3h1.76M633.75 164.3h2.76M634.49 165.3h1.41M634 167.3h2.37M634.27 168.3h1.68M634.31 169.3h2.27M634.1 170.3h2.41M633.88 171.3h2.44M633.83 172.3h2.73M634.16 173.3h2.47M634.4 174.3h1.84M634.03 175.3h2.39M634.36 176.3h1.88M634.41 177.3h2.18M633.89 178.3h2.26M634.19 179.3h2.31M634.42 180.3h1.96M634.47 182.3h1.87M633.93 183.3h2.14M634.43 184.3h2.01M633.87 185.3h2.38M633.73 186.3h2.62M634.12 187.3h1.91M634.05 188.3h2.64M634.17 189.3h2.02M634.1 190.3h2.52M634.12 192.3h2.48M634.45 193.3h1.65M634.22 194.3h2.03M633.88 196.3h2.26M634.32 197.3h1.83M633.72 198.3h2.96M634.18 199.3h2.16M634.06 201.3h1.96M634.08 202.3h2.48M633.85 203.3h2.32M633.85 205.3h2.24M633.7 206.3h2.5M633.93 207.3h2.32M634.02 209.3h2.43M633.75 210.3h2.44M634.12 211.3h2.23M634.35 212.3h2.26M634.09 213.3h2.38M634.1 214.3h2.29M634.04 215.3h2.1M634.31 216.3h1.77M634.07 217.3h2.33M633.92 218.3h2.21M634.45 220.3h2.16M634.24 221.3h2.08M633.75 222.3h2.63M633.99 224.3h2.35M634.49 225.3h1.43M634 226.3h1.99M634.08 227.3h1.97M634.45 228.3h1.48M634.19 229.3h1.93M634.03 230.3h1.9" stroke="#ee3a24" stroke-width="1.1" fill="none"/>
<path d="M633.78 29.3h2.48M634.26 59.3h1.92M634.11 73.3h2.38M633.91 76.3h2.37M634.39 80.3h2.29M633.71 83.3h2.61M633.99 87.3h2.51M634.49 94.3h1.52M634.03 99.3h2.16M634.31 106.3h2.39M633.73 111.3h2.83M634.22 117.3h1.77M634.03 123.3h2.47M634.17 125.3h2.14M634.1 136.3h2.27M634.08 143.3h2.34M633.82 151.3h2.78M633.94 152.3h2.36M634.01 154.3h2.3M633.87 160.3h2.03M634.17 162.3h2.48M634.41 166.3h1.79M634.04 181.3h2.51M634.3 191.3h2.37M634.36 195.3h2.31M633.89 200.3h2.07M634.09 204.3h2.54M634.45 208.3h2.14M633.72 219.3h2.5M634.12 223.3h2.18" stroke="#f26f21" stroke-width="1.1" fill="none"/>
<rect x="583" y="27.8" width="103.2" height="202.6" fill="none" stroke="#4d4a48" stroke-width="1.3"/>
</g>
<line x1="583" y1="230.9" x2="583" y2="234" stroke="#808285" stroke-width="0.9"/>
<text transform="translate(577.92 245.8) scale(1.05 1)" font-size="10.7" letter-spacing="0.8" fill="#231f20">-2</text>
<line x1="608.8" y1="230.9" x2="608.8" y2="234" stroke="#808285" stroke-width="0.9"/>
<text transform="translate(603.71 245.8) scale(1.05 1)" font-size="10.7" letter-spacing="0.8" fill="#231f20">-1</text>
<line x1="634.6" y1="230.9" x2="634.6" y2="234" stroke="#808285" stroke-width="0.9"/>
<text transform="translate(631.77 245.8) scale(1.05 1)" font-size="10.7" letter-spacing="0.8" fill="#231f20">0</text>
<line x1="660.4" y1="230.9" x2="660.4" y2="234" stroke="#808285" stroke-width="0.9"/>
<text transform="translate(657.43 245.8) scale(1.05 1)" font-size="10.7" letter-spacing="0.8" fill="#231f20">1</text>
<line x1="686.2" y1="230.9" x2="686.2" y2="234" stroke="#808285" stroke-width="0.9"/>
<text transform="translate(683.38 245.8) scale(1.05 1)" font-size="10.7" letter-spacing="0.8" fill="#231f20">2</text>
<text transform="translate(606.76 22.3) scale(1.0 1)" font-size="15" letter-spacing="1.12" fill="#231f20">HDAC2</text>
<linearGradient id="g4s" gradientUnits="userSpaceOnUse" x1="0" y1="27.8" x2="0" y2="230.4"><stop offset="0" stop-color="#ed2124"/><stop offset="0.5" stop-color="#ee2a23"/><stop offset="0.72" stop-color="#f04e23"/><stop offset="1" stop-color="#f47a20"/></linearGradient>
<line x1="108" y1="251.3" x2="701.7" y2="251.3" stroke="#58595b" stroke-width="1"/>
<text transform="translate(317.38 265.9) scale(1.0 1)" font-size="13.6" letter-spacing="0.13" fill="#231f20">Distance to peak center (kb)</text>
<text x="-0.2" y="12.8" font-size="18.4" fill="#231f20">A</text>
<text x="-1.2" y="300.8" font-size="18.5" fill="#231f20">B</text>
<text x="-1.2" y="474.4" font-size="18.6" fill="#231f20">C</text>
<text x="-1.1" y="666.4" font-size="18.4" fill="#231f20">D</text>
<g>
<path d="M38 414.4 L60 414.3 L80 413.7 L86.7 413.1 L88 411.5 L88.5 406 L88.9 358 L89.6 354 L90.6 350.6 L92.1 346.5 L92.6 330 L93.1 298.3 L93.6 330 L94.1 346.5 L95.8 352.1 L96.9 355.5 L97.4 359 L97.8 406 L98.3 411.5 L99.6 413.1 L106 413.7 L125 414.3 L148.4 414.4" fill="none" stroke="#3d5fb8" stroke-width="1.05" stroke-linejoin="round"/>
<rect x="33.6" y="294.2" width="119.3" height="124.4" fill="none" stroke="#231f20" stroke-width="1"/>
<line x1="29.4" y1="415.7" x2="33.1" y2="415.7" stroke="#6d6e71" stroke-width="0.9"/>
<text transform="translate(26.6 418.8) rotate(-90) scale(1.05 1)" font-size="10.6" letter-spacing="0.3" fill="#231f20">0</text>
<line x1="29.4" y1="389.4" x2="33.1" y2="389.4" stroke="#6d6e71" stroke-width="0.9"/>
<text transform="translate(26.6 392.49) rotate(-90) scale(1.05 1)" font-size="10.6" letter-spacing="0.3" fill="#231f20">5</text>
<line x1="29.4" y1="363.1" x2="33.1" y2="363.1" stroke="#6d6e71" stroke-width="0.9"/>
<text transform="translate(26.6 369.24) rotate(-90) scale(1.05 1)" font-size="10.6" letter-spacing="0.3" fill="#231f20">10</text>
<line x1="29.4" y1="336.8" x2="33.1" y2="336.8" stroke="#6d6e71" stroke-width="0.9"/>
<text transform="translate(26.6 342.93) rotate(-90) scale(1.05 1)" font-size="10.6" letter-spacing="0.3" fill="#231f20">15</text>
<line x1="29.4" y1="310.5" x2="33.1" y2="310.5" stroke="#6d6e71" stroke-width="0.9"/>
<text transform="translate(26.6 316.5) rotate(-90) scale(1.05 1)" font-size="10.6" letter-spacing="0.3" fill="#231f20">20</text>
<line x1="31.2" y1="402.55" x2="33.1" y2="402.55" stroke="#6d6e71" stroke-width="0.9"/>
<line x1="31.2" y1="376.25" x2="33.1" y2="376.25" stroke="#6d6e71" stroke-width="0.9"/>
<line x1="31.2" y1="349.95" x2="33.1" y2="349.95" stroke="#6d6e71" stroke-width="0.9"/>
<line x1="31.2" y1="323.65" x2="33.1" y2="323.65" stroke="#6d6e71" stroke-width="0.9"/>
<line x1="31.2" y1="297.35" x2="33.1" y2="297.35" stroke="#6d6e71" stroke-width="0.9"/>
<line x1="38" y1="419.1" x2="38" y2="423.1" stroke="#6d6e71" stroke-width="0.9"/>
<text transform="translate(33.47 433.6) scale(1.0 1)" font-size="10.6" letter-spacing="0.1" fill="#231f20">-2</text>
<line x1="51.8" y1="419.1" x2="51.8" y2="421.4" stroke="#6d6e71" stroke-width="0.9"/>
<line x1="65.6" y1="419.1" x2="65.6" y2="423.1" stroke="#6d6e71" stroke-width="0.9"/>
<text transform="translate(61.06 433.6) scale(1.0 1)" font-size="10.6" letter-spacing="0.1" fill="#231f20">-1</text>
<line x1="79.4" y1="419.1" x2="79.4" y2="421.4" stroke="#6d6e71" stroke-width="0.9"/>
<line x1="93.2" y1="419.1" x2="93.2" y2="423.1" stroke="#6d6e71" stroke-width="0.9"/>
<text transform="translate(90.45 433.6) scale(1.0 1)" font-size="10.6" letter-spacing="0.1" fill="#231f20">0</text>
<line x1="107" y1="419.1" x2="107" y2="421.4" stroke="#6d6e71" stroke-width="0.9"/>
<line x1="120.8" y1="419.1" x2="120.8" y2="423.1" stroke="#6d6e71" stroke-width="0.9"/>
<text transform="translate(117.91 433.6) scale(1.0 1)" font-size="10.6" letter-spacing="0.1" fill="#231f20">1</text>
<line x1="134.6" y1="419.1" x2="134.6" y2="421.4" stroke="#6d6e71" stroke-width="0.9"/>
<line x1="148.4" y1="419.1" x2="148.4" y2="423.1" stroke="#6d6e71" stroke-width="0.9"/>
<text transform="translate(145.66 433.6) scale(1.0 1)" font-size="10.6" letter-spacing="0.1" fill="#231f20">2</text>
<text transform="translate(109.57 310.8) scale(0.91 1)" font-size="13.7" letter-spacing="1.3" fill="#231f20">E2F6</text>
<text transform="translate(11.2 397.88) rotate(-90) scale(1.02 1)" font-size="11.4" letter-spacing="0.16" fill="#231f20">ChIP coverage</text>
</g>
<g>
<path d="M193.6 414.9 L220 414.7 L234.1 414.2 L238 413.2 L239.2 411 L239.8 405 L240.4 380 L240.9 364 L241.8 356 L242.9 350 L244 349 L247 347.1 L248.4 344.4 L248.8 330 L249.3 298.6 L249.8 330 L250.1 344.4 L250.8 350 L251.5 355.3 L253 356.6 L254.6 357.8 L257.1 360.9 L257.7 380 L258.3 405 L258.8 411 L260 413.2 L263.9 414.2 L278 414.7 L304.6 414.9" fill="none" stroke="#3d5fb8" stroke-width="1.05" stroke-linejoin="round"/>
<rect x="189.5" y="294.2" width="119.7" height="124.7" fill="none" stroke="#231f20" stroke-width="1"/>
<line x1="185.3" y1="418.4" x2="189" y2="418.4" stroke="#6d6e71" stroke-width="0.9"/>
<text transform="translate(182.7 421.5) rotate(-90) scale(1.05 1)" font-size="10.6" letter-spacing="0.3" fill="#231f20">0</text>
<line x1="185.3" y1="397.45" x2="189" y2="397.45" stroke="#6d6e71" stroke-width="0.9"/>
<text transform="translate(182.7 400.54) rotate(-90) scale(1.05 1)" font-size="10.6" letter-spacing="0.3" fill="#231f20">2</text>
<line x1="185.3" y1="376.5" x2="189" y2="376.5" stroke="#6d6e71" stroke-width="0.9"/>
<text transform="translate(182.7 379.56) rotate(-90) scale(1.05 1)" font-size="10.6" letter-spacing="0.3" fill="#231f20">4</text>
<line x1="185.3" y1="355.55" x2="189" y2="355.55" stroke="#6d6e71" stroke-width="0.9"/>
<text transform="translate(182.7 358.68) rotate(-90) scale(1.05 1)" font-size="10.6" letter-spacing="0.3" fill="#231f20">6</text>
<line x1="185.3" y1="334.6" x2="189" y2="334.6" stroke="#6d6e71" stroke-width="0.9"/>
<text transform="translate(182.7 337.69) rotate(-90) scale(1.05 1)" font-size="10.6" letter-spacing="0.3" fill="#231f20">8</text>
<line x1="185.3" y1="313.65" x2="189" y2="313.65" stroke="#6d6e71" stroke-width="0.9"/>
<text transform="translate(182.7 319.79) rotate(-90) scale(1.05 1)" font-size="10.6" letter-spacing="0.3" fill="#231f20">10</text>
<line x1="187.1" y1="407.92" x2="189" y2="407.92" stroke="#6d6e71" stroke-width="0.9"/>
<line x1="187.1" y1="386.97" x2="189" y2="386.97" stroke="#6d6e71" stroke-width="0.9"/>
<line x1="187.1" y1="366.02" x2="189" y2="366.02" stroke="#6d6e71" stroke-width="0.9"/>
<line x1="187.1" y1="345.07" x2="189" y2="345.07" stroke="#6d6e71" stroke-width="0.9"/>
<line x1="187.1" y1="324.12" x2="189" y2="324.12" stroke="#6d6e71" stroke-width="0.9"/>
<line x1="187.1" y1="303.17" x2="189" y2="303.17" stroke="#6d6e71" stroke-width="0.9"/>
<line x1="193.6" y1="419.4" x2="193.6" y2="423.4" stroke="#6d6e71" stroke-width="0.9"/>
<text transform="translate(189.07 433.6) scale(1.0 1)" font-size="10.6" letter-spacing="0.1" fill="#231f20">-2</text>
<line x1="207.47" y1="419.4" x2="207.47" y2="421.7" stroke="#6d6e71" stroke-width="0.9"/>
<line x1="221.35" y1="419.4" x2="221.35" y2="423.4" stroke="#6d6e71" stroke-width="0.9"/>
<text transform="translate(216.81 433.6) scale(1.0 1)" font-size="10.6" letter-spacing="0.1" fill="#231f20">-1</text>
<line x1="235.22" y1="419.4" x2="235.22" y2="421.7" stroke="#6d6e71" stroke-width="0.9"/>
<line x1="249.1" y1="419.4" x2="249.1" y2="423.4" stroke="#6d6e71" stroke-width="0.9"/>
<text transform="translate(246.35 433.6) scale(1.0 1)" font-size="10.6" letter-spacing="0.1" fill="#231f20">0</text>
<line x1="262.98" y1="419.4" x2="262.98" y2="421.7" stroke="#6d6e71" stroke-width="0.9"/>
<line x1="276.85" y1="419.4" x2="276.85" y2="423.4" stroke="#6d6e71" stroke-width="0.9"/>
<text transform="translate(273.96 433.6) scale(1.0 1)" font-size="10.6" letter-spacing="0.1" fill="#231f20">1</text>
<line x1="290.73" y1="419.4" x2="290.73" y2="421.7" stroke="#6d6e71" stroke-width="0.9"/>
<line x1="304.6" y1="419.4" x2="304.6" y2="423.4" stroke="#6d6e71" stroke-width="0.9"/>
<text transform="translate(301.86 433.6) scale(1.0 1)" font-size="10.6" letter-spacing="0.1" fill="#231f20">2</text>
<text transform="translate(268.27 310.8) scale(0.91 1)" font-size="13.7" letter-spacing="0.81" fill="#231f20">E2F1</text>
<text transform="translate(167.6 397.68) rotate(-90) scale(1.02 1)" font-size="11.4" letter-spacing="0.12" fill="#231f20">ChIP coverage</text>
</g>
<g>
<path d="M350.3 414.8 L380 414.6 L398.6 414 L401.3 412.6 L402 408 L402.4 398 L402.9 364.5 L403.7 360 L404.3 356.5 L404.9 342.5 L405.2 320 L405.6 299 L406 322 L406.4 344.6 L407.3 348 L408 351.3 L408.6 367.2 L409.1 395 L409.5 409.5 L410.2 412.6 L411.5 413.7 L423 414.4 L440 414.7 L461.2 414.8" fill="none" stroke="#3d5fb8" stroke-width="1.05" stroke-linejoin="round"/>
<rect x="345.6" y="294.2" width="120.1" height="124.7" fill="none" stroke="#231f20" stroke-width="1"/>
<line x1="341.4" y1="415.4" x2="345.1" y2="415.4" stroke="#6d6e71" stroke-width="0.9"/>
<text transform="translate(338.4 418.5) rotate(-90) scale(1.05 1)" font-size="10.6" letter-spacing="0.3" fill="#231f20">0</text>
<line x1="341.4" y1="386.9" x2="345.1" y2="386.9" stroke="#6d6e71" stroke-width="0.9"/>
<text transform="translate(338.4 393.04) rotate(-90) scale(1.05 1)" font-size="10.6" letter-spacing="0.3" fill="#231f20">10</text>
<line x1="341.4" y1="358.4" x2="345.1" y2="358.4" stroke="#6d6e71" stroke-width="0.9"/>
<text transform="translate(338.4 364.4) rotate(-90) scale(1.05 1)" font-size="10.6" letter-spacing="0.3" fill="#231f20">20</text>
<line x1="341.4" y1="329.9" x2="345.1" y2="329.9" stroke="#6d6e71" stroke-width="0.9"/>
<text transform="translate(338.4 335.83) rotate(-90) scale(1.05 1)" font-size="10.6" letter-spacing="0.3" fill="#231f20">30</text>
<line x1="341.4" y1="301.4" x2="345.1" y2="301.4" stroke="#6d6e71" stroke-width="0.9"/>
<text transform="translate(338.4 307.25) rotate(-90) scale(1.05 1)" font-size="10.6" letter-spacing="0.3" fill="#231f20">40</text>
<line x1="343.2" y1="401.15" x2="345.1" y2="401.15" stroke="#6d6e71" stroke-width="0.9"/>
<line x1="343.2" y1="372.65" x2="345.1" y2="372.65" stroke="#6d6e71" stroke-width="0.9"/>
<line x1="343.2" y1="344.15" x2="345.1" y2="344.15" stroke="#6d6e71" stroke-width="0.9"/>
<line x1="343.2" y1="315.65" x2="345.1" y2="315.65" stroke="#6d6e71" stroke-width="0.9"/>
<line x1="350.3" y1="419.4" x2="350.3" y2="423.4" stroke="#6d6e71" stroke-width="0.9"/>
<text transform="translate(345.77 433.6) scale(1.0 1)" font-size="10.6" letter-spacing="0.1" fill="#231f20">-2</text>
<line x1="364.16" y1="419.4" x2="364.16" y2="421.7" stroke="#6d6e71" stroke-width="0.9"/>
<line x1="378.02" y1="419.4" x2="378.02" y2="423.4" stroke="#6d6e71" stroke-width="0.9"/>
<text transform="translate(373.48 433.6) scale(1.0 1)" font-size="10.6" letter-spacing="0.1" fill="#231f20">-1</text>
<line x1="391.89" y1="419.4" x2="391.89" y2="421.7" stroke="#6d6e71" stroke-width="0.9"/>
<line x1="405.75" y1="419.4" x2="405.75" y2="423.4" stroke="#6d6e71" stroke-width="0.9"/>
<text transform="translate(403 433.6) scale(1.0 1)" font-size="10.6" letter-spacing="0.1" fill="#231f20">0</text>
<line x1="419.61" y1="419.4" x2="419.61" y2="421.7" stroke="#6d6e71" stroke-width="0.9"/>
<line x1="433.48" y1="419.4" x2="433.48" y2="423.4" stroke="#6d6e71" stroke-width="0.9"/>
<text transform="translate(430.59 433.6) scale(1.0 1)" font-size="10.6" letter-spacing="0.1" fill="#231f20">1</text>
<line x1="447.34" y1="419.4" x2="447.34" y2="421.7" stroke="#6d6e71" stroke-width="0.9"/>
<line x1="461.2" y1="419.4" x2="461.2" y2="423.4" stroke="#6d6e71" stroke-width="0.9"/>
<text transform="translate(458.46 433.6) scale(1.0 1)" font-size="10.6" letter-spacing="0.1" fill="#231f20">2</text>
<text transform="translate(435.87 310.8) scale(0.91 1)" font-size="13.7" letter-spacing="1.54" fill="#231f20">Rb</text>
<text transform="translate(324.1 397.78) rotate(-90) scale(1.02 1)" font-size="11.4" letter-spacing="0.13" fill="#231f20">ChIP coverage</text>
</g>
<g>
<path d="M506.3 414.4 L530 414.2 L537.2 414 L545.4 412.8 L548.3 411.4 L549.4 409 L550.1 402 L550.5 385 L550.9 367.2 L551.7 359.5 L555 357 L558.7 354.4 L559.2 350 L559.7 344.6 L561 337 L561.4 320 L561.8 298.3 L562.2 320 L562.6 338.4 L563.9 345.6 L567 347.6 L570.6 349.7 L571.6 354 L572.5 361 L573 385 L573.5 406.2 L574 410 L575.5 411.8 L582.3 413.6 L594.7 414.3 L617.2 414.4" fill="none" stroke="#3d5fb8" stroke-width="1.05" stroke-linejoin="round"/>
<rect x="502.2" y="294.2" width="119.7" height="124.7" fill="none" stroke="#231f20" stroke-width="1"/>
<line x1="498" y1="418.5" x2="501.7" y2="418.5" stroke="#6d6e71" stroke-width="0.9"/>
<text transform="translate(493.1 421.6) rotate(-90) scale(1.05 1)" font-size="10.6" letter-spacing="0.3" fill="#231f20">0</text>
<line x1="498" y1="390.95" x2="501.7" y2="390.95" stroke="#6d6e71" stroke-width="0.9"/>
<text transform="translate(493.1 394.04) rotate(-90) scale(1.05 1)" font-size="10.6" letter-spacing="0.3" fill="#231f20">2</text>
<line x1="498" y1="363.4" x2="501.7" y2="363.4" stroke="#6d6e71" stroke-width="0.9"/>
<text transform="translate(493.1 366.46) rotate(-90) scale(1.05 1)" font-size="10.6" letter-spacing="0.3" fill="#231f20">4</text>
<line x1="498" y1="335.85" x2="501.7" y2="335.85" stroke="#6d6e71" stroke-width="0.9"/>
<text transform="translate(493.1 338.98) rotate(-90) scale(1.05 1)" font-size="10.6" letter-spacing="0.3" fill="#231f20">6</text>
<line x1="498" y1="308.3" x2="501.7" y2="308.3" stroke="#6d6e71" stroke-width="0.9"/>
<text transform="translate(493.1 311.39) rotate(-90) scale(1.05 1)" font-size="10.6" letter-spacing="0.3" fill="#231f20">8</text>
<line x1="499.8" y1="404.73" x2="501.7" y2="404.73" stroke="#6d6e71" stroke-width="0.9"/>
<line x1="499.8" y1="377.18" x2="501.7" y2="377.18" stroke="#6d6e71" stroke-width="0.9"/>
<line x1="499.8" y1="349.62" x2="501.7" y2="349.62" stroke="#6d6e71" stroke-width="0.9"/>
<line x1="499.8" y1="322.07" x2="501.7" y2="322.07" stroke="#6d6e71" stroke-width="0.9"/>
<line x1="506.3" y1="419.4" x2="506.3" y2="423.4" stroke="#6d6e71" stroke-width="0.9"/>
<text transform="translate(501.77 433.6) scale(1.0 1)" font-size="10.6" letter-spacing="0.1" fill="#231f20">-2</text>
<line x1="520.16" y1="419.4" x2="520.16" y2="421.7" stroke="#6d6e71" stroke-width="0.9"/>
<line x1="534.02" y1="419.4" x2="534.02" y2="423.4" stroke="#6d6e71" stroke-width="0.9"/>
<text transform="translate(529.48 433.6) scale(1.0 1)" font-size="10.6" letter-spacing="0.1" fill="#231f20">-1</text>
<line x1="547.89" y1="419.4" x2="547.89" y2="421.7" stroke="#6d6e71" stroke-width="0.9"/>
<line x1="561.75" y1="419.4" x2="561.75" y2="423.4" stroke="#6d6e71" stroke-width="0.9"/>
<text transform="translate(559 433.6) scale(1.0 1)" font-size="10.6" letter-spacing="0.1" fill="#231f20">0</text>
<line x1="575.61" y1="419.4" x2="575.61" y2="421.7" stroke="#6d6e71" stroke-width="0.9"/>
<line x1="589.48" y1="419.4" x2="589.48" y2="423.4" stroke="#6d6e71" stroke-width="0.9"/>
<text transform="translate(586.59 433.6) scale(1.0 1)" font-size="10.6" letter-spacing="0.1" fill="#231f20">1</text>
<line x1="603.34" y1="419.4" x2="603.34" y2="421.7" stroke="#6d6e71" stroke-width="0.9"/>
<line x1="617.2" y1="419.4" x2="617.2" y2="423.4" stroke="#6d6e71" stroke-width="0.9"/>
<text transform="translate(614.46 433.6) scale(1.0 1)" font-size="10.6" letter-spacing="0.1" fill="#231f20">2</text>
<text transform="translate(569.67 310.8) scale(0.91 1)" font-size="13.7" letter-spacing="1.65" fill="#231f20">HDAC1</text>
<text transform="translate(480.6 398.38) rotate(-90) scale(1.02 1)" font-size="11.4" letter-spacing="0.18" fill="#231f20">ChIP coverage</text>
</g>
<g>
<path d="M659.5 414.7 L685 414.4 L696.8 414.1 L707.6 413.1 L712 412.3 L713.9 411.6 L714.4 406.5 L714.8 360 L715.3 298.5 L715.8 360 L716.3 406.5 L716.8 411.6 L718.5 412.4 L722.8 413.3 L735.8 414.2 L750 414.5 L771.3 414.7" fill="none" stroke="#3d5fb8" stroke-width="1.05" stroke-linejoin="round"/>
<rect x="654.7" y="294.3" width="121.3" height="124.7" fill="none" stroke="#231f20" stroke-width="1"/>
<line x1="650.5" y1="415.2" x2="654.2" y2="415.2" stroke="#6d6e71" stroke-width="0.9"/>
<text transform="translate(648.7 418.3) rotate(-90) scale(1.05 1)" font-size="10.6" letter-spacing="0.3" fill="#231f20">0</text>
<line x1="650.5" y1="394.45" x2="654.2" y2="394.45" stroke="#6d6e71" stroke-width="0.9"/>
<text transform="translate(648.7 400.59) rotate(-90) scale(1.05 1)" font-size="10.6" letter-spacing="0.3" fill="#231f20">10</text>
<line x1="650.5" y1="373.7" x2="654.2" y2="373.7" stroke="#6d6e71" stroke-width="0.9"/>
<text transform="translate(648.7 379.7) rotate(-90) scale(1.05 1)" font-size="10.6" letter-spacing="0.3" fill="#231f20">20</text>
<line x1="650.5" y1="352.95" x2="654.2" y2="352.95" stroke="#6d6e71" stroke-width="0.9"/>
<text transform="translate(648.7 358.88) rotate(-90) scale(1.05 1)" font-size="10.6" letter-spacing="0.3" fill="#231f20">30</text>
<line x1="650.5" y1="332.2" x2="654.2" y2="332.2" stroke="#6d6e71" stroke-width="0.9"/>
<text transform="translate(648.7 338.05) rotate(-90) scale(1.05 1)" font-size="10.6" letter-spacing="0.3" fill="#231f20">40</text>
<line x1="650.5" y1="311.45" x2="654.2" y2="311.45" stroke="#6d6e71" stroke-width="0.9"/>
<text transform="translate(648.7 317.4) rotate(-90) scale(1.05 1)" font-size="10.6" letter-spacing="0.3" fill="#231f20">50</text>
<line x1="652.3" y1="404.82" x2="654.2" y2="404.82" stroke="#6d6e71" stroke-width="0.9"/>
<line x1="652.3" y1="384.07" x2="654.2" y2="384.07" stroke="#6d6e71" stroke-width="0.9"/>
<line x1="652.3" y1="363.32" x2="654.2" y2="363.32" stroke="#6d6e71" stroke-width="0.9"/>
<line x1="652.3" y1="342.57" x2="654.2" y2="342.57" stroke="#6d6e71" stroke-width="0.9"/>
<line x1="652.3" y1="321.82" x2="654.2" y2="321.82" stroke="#6d6e71" stroke-width="0.9"/>
<line x1="652.3" y1="301.07" x2="654.2" y2="301.07" stroke="#6d6e71" stroke-width="0.9"/>
<line x1="659.5" y1="419.5" x2="659.5" y2="423.5" stroke="#6d6e71" stroke-width="0.9"/>
<text transform="translate(654.97 433.6) scale(1.0 1)" font-size="10.6" letter-spacing="0.1" fill="#231f20">-2</text>
<line x1="673.48" y1="419.5" x2="673.48" y2="421.8" stroke="#6d6e71" stroke-width="0.9"/>
<line x1="687.45" y1="419.5" x2="687.45" y2="423.5" stroke="#6d6e71" stroke-width="0.9"/>
<text transform="translate(682.91 433.6) scale(1.0 1)" font-size="10.6" letter-spacing="0.1" fill="#231f20">-1</text>
<line x1="701.43" y1="419.5" x2="701.43" y2="421.8" stroke="#6d6e71" stroke-width="0.9"/>
<line x1="715.4" y1="419.5" x2="715.4" y2="423.5" stroke="#6d6e71" stroke-width="0.9"/>
<text transform="translate(712.65 433.6) scale(1.0 1)" font-size="10.6" letter-spacing="0.1" fill="#231f20">0</text>
<line x1="729.38" y1="419.5" x2="729.38" y2="421.8" stroke="#6d6e71" stroke-width="0.9"/>
<line x1="743.35" y1="419.5" x2="743.35" y2="423.5" stroke="#6d6e71" stroke-width="0.9"/>
<text transform="translate(740.46 433.6) scale(1.0 1)" font-size="10.6" letter-spacing="0.1" fill="#231f20">1</text>
<line x1="757.32" y1="419.5" x2="757.32" y2="421.8" stroke="#6d6e71" stroke-width="0.9"/>
<line x1="771.3" y1="419.5" x2="771.3" y2="423.5" stroke="#6d6e71" stroke-width="0.9"/>
<text transform="translate(768.56 433.6) scale(1.0 1)" font-size="10.6" letter-spacing="0.1" fill="#231f20">2</text>
<text transform="translate(721.07 310.8) scale(0.91 1)" font-size="13.7" letter-spacing="1.82" fill="#231f20">HDAC2</text>
<text transform="translate(637.4 398.28) rotate(-90) scale(1.02 1)" font-size="11.4" letter-spacing="0.19" fill="#231f20">ChIP coverage</text>
</g>
<line x1="30.4" y1="438.4" x2="779" y2="438.4" stroke="#58595b" stroke-width="1"/>
<text transform="translate(317.38 453.3) scale(1.0 1)" font-size="13.6" letter-spacing="0.14" fill="#231f20">Distance to peak center (kb)</text>
<g>
<rect x="143.3" y="477.6" width="10.1" height="116.4" fill="#e2f0e4"/>
<rect x="34.5" y="594" width="108.8" height="10.8" fill="#fde2d6"/>
<path d="M37.5 600.2 L70 599.7 L100 599.1 L118.1 598.4 L130 597.3 L136 596.8 L140 595.7 L142.9 594.6 L144.9 591.9 L146.5 587.4 L147.5 584 L148 578 L148.3 568 L148.5 550 L148.7 520 L148.9 483.7" fill="none" stroke="#868ed1" stroke-width="0.9" stroke-linejoin="round"/>
<rect x="34.5" y="477.6" width="118.9" height="127.2" fill="none" stroke="#231f20" stroke-width="1"/>
<line x1="30.3" y1="600.3" x2="34" y2="600.3" stroke="#6d6e71" stroke-width="0.9"/>
<text transform="translate(27.8 603.4) rotate(-90) scale(1.05 1)" font-size="10.6" letter-spacing="0.3" fill="#231f20">0</text>
<line x1="30.3" y1="577.58" x2="34" y2="577.58" stroke="#6d6e71" stroke-width="0.9"/>
<text transform="translate(27.8 583.43) rotate(-90) scale(1.05 1)" font-size="10.6" letter-spacing="0.3" fill="#231f20">50</text>
<line x1="30.3" y1="554.86" x2="34" y2="554.86" stroke="#6d6e71" stroke-width="0.9"/>
<text transform="translate(27.8 563.66) rotate(-90) scale(1.05 1)" font-size="10.6" letter-spacing="0.3" fill="#231f20">100</text>
<line x1="30.3" y1="532.14" x2="34" y2="532.14" stroke="#6d6e71" stroke-width="0.9"/>
<text transform="translate(27.8 540.94) rotate(-90) scale(1.05 1)" font-size="10.6" letter-spacing="0.3" fill="#231f20">150</text>
<line x1="30.3" y1="509.42" x2="34" y2="509.42" stroke="#6d6e71" stroke-width="0.9"/>
<text transform="translate(27.8 518.08) rotate(-90) scale(1.05 1)" font-size="10.6" letter-spacing="0.3" fill="#231f20">200</text>
<line x1="30.3" y1="486.7" x2="34" y2="486.7" stroke="#6d6e71" stroke-width="0.9"/>
<text transform="translate(27.8 495.36) rotate(-90) scale(1.05 1)" font-size="10.6" letter-spacing="0.3" fill="#231f20">250</text>
<line x1="32.1" y1="588.94" x2="34" y2="588.94" stroke="#6d6e71" stroke-width="0.9"/>
<line x1="32.1" y1="566.22" x2="34" y2="566.22" stroke="#6d6e71" stroke-width="0.9"/>
<line x1="32.1" y1="543.5" x2="34" y2="543.5" stroke="#6d6e71" stroke-width="0.9"/>
<line x1="32.1" y1="520.78" x2="34" y2="520.78" stroke="#6d6e71" stroke-width="0.9"/>
<line x1="32.1" y1="498.06" x2="34" y2="498.06" stroke="#6d6e71" stroke-width="0.9"/>
<line x1="37.5" y1="605.3" x2="37.5" y2="609.3" stroke="#6d6e71" stroke-width="0.9"/>
<line x1="45.58" y1="605.3" x2="45.58" y2="607.6" stroke="#6d6e71" stroke-width="0.9"/>
<line x1="53.65" y1="605.3" x2="53.65" y2="609.3" stroke="#6d6e71" stroke-width="0.9"/>
<line x1="61.72" y1="605.3" x2="61.72" y2="607.6" stroke="#6d6e71" stroke-width="0.9"/>
<line x1="69.8" y1="605.3" x2="69.8" y2="609.3" stroke="#6d6e71" stroke-width="0.9"/>
<line x1="77.88" y1="605.3" x2="77.88" y2="607.6" stroke="#6d6e71" stroke-width="0.9"/>
<line x1="85.95" y1="605.3" x2="85.95" y2="609.3" stroke="#6d6e71" stroke-width="0.9"/>
<line x1="94.02" y1="605.3" x2="94.02" y2="607.6" stroke="#6d6e71" stroke-width="0.9"/>
<line x1="102.1" y1="605.3" x2="102.1" y2="609.3" stroke="#6d6e71" stroke-width="0.9"/>
<line x1="110.17" y1="605.3" x2="110.17" y2="607.6" stroke="#6d6e71" stroke-width="0.9"/>
<line x1="118.25" y1="605.3" x2="118.25" y2="609.3" stroke="#6d6e71" stroke-width="0.9"/>
<line x1="126.33" y1="605.3" x2="126.33" y2="607.6" stroke="#6d6e71" stroke-width="0.9"/>
<line x1="134.4" y1="605.3" x2="134.4" y2="609.3" stroke="#6d6e71" stroke-width="0.9"/>
<line x1="142.47" y1="605.3" x2="142.47" y2="607.6" stroke="#6d6e71" stroke-width="0.9"/>
<line x1="150.55" y1="605.3" x2="150.55" y2="609.3" stroke="#6d6e71" stroke-width="0.9"/>
<text transform="translate(34.6 620.7) scale(1.05 1)" font-size="10.6" letter-spacing="0.4" fill="#231f20">0</text>
<text transform="translate(48.09 620.7) scale(1.05 1)" font-size="10.6" letter-spacing="0.4" fill="#231f20">20</text>
<text transform="translate(80.39 620.7) scale(1.05 1)" font-size="10.6" letter-spacing="0.4" fill="#231f20">60</text>
<text transform="translate(109.94 620.7) scale(1.05 1)" font-size="10.6" letter-spacing="0.4" fill="#231f20">100</text>
<text transform="translate(142.24 620.7) scale(1.05 1)" font-size="10.6" letter-spacing="0.4" fill="#231f20">140</text>
<text transform="translate(125.93 491.6) scale(0.98 1)" font-size="13" letter-spacing="0.72" fill="#231f20">SE</text>
<text transform="translate(38.01 593.5) scale(0.98 1)" font-size="13" letter-spacing="0.26" fill="#231f20">TE</text>
<text transform="translate(15.4 597.26) rotate(-90) scale(1.02 1)" font-size="11.4" letter-spacing="0.12" fill="#231f20">E2F6 signal (×1000)</text>
</g>
<g>
<rect x="298.9" y="478.4" width="10.4" height="115.2" fill="#e2f0e4"/>
<rect x="190.5" y="593.6" width="108.4" height="11.4" fill="#fde2d6"/>
<path d="M193.8 600.2 L230 599.7 L265.3 599 L283.2 597.7 L293.1 596.1 L299.2 594.4 L300.9 591.5 L302.3 588.7 L303.5 584 L303.8 571.5 L304.1 560 L304.5 540 L304.9 515 L305.5 482.3" fill="none" stroke="#868ed1" stroke-width="0.9" stroke-linejoin="round"/>
<rect x="190.5" y="478.4" width="118.8" height="126.6" fill="none" stroke="#231f20" stroke-width="1"/>
<line x1="186.3" y1="600.6" x2="190" y2="600.6" stroke="#6d6e71" stroke-width="0.9"/>
<text transform="translate(184.4 603.7) rotate(-90) scale(1.05 1)" font-size="10.6" letter-spacing="0.3" fill="#231f20">0</text>
<line x1="186.3" y1="571.2" x2="190" y2="571.2" stroke="#6d6e71" stroke-width="0.9"/>
<text transform="translate(184.4 577.05) rotate(-90) scale(1.05 1)" font-size="10.6" letter-spacing="0.3" fill="#231f20">50</text>
<line x1="186.3" y1="541.8" x2="190" y2="541.8" stroke="#6d6e71" stroke-width="0.9"/>
<text transform="translate(184.4 550.6) rotate(-90) scale(1.05 1)" font-size="10.6" letter-spacing="0.3" fill="#231f20">100</text>
<line x1="186.3" y1="512.4" x2="190" y2="512.4" stroke="#6d6e71" stroke-width="0.9"/>
<text transform="translate(184.4 521.2) rotate(-90) scale(1.05 1)" font-size="10.6" letter-spacing="0.3" fill="#231f20">150</text>
<line x1="186.3" y1="483" x2="190" y2="483" stroke="#6d6e71" stroke-width="0.9"/>
<text transform="translate(184.4 491.66) rotate(-90) scale(1.05 1)" font-size="10.6" letter-spacing="0.3" fill="#231f20">200</text>
<line x1="188.1" y1="585.9" x2="190" y2="585.9" stroke="#6d6e71" stroke-width="0.9"/>
<line x1="188.1" y1="556.5" x2="190" y2="556.5" stroke="#6d6e71" stroke-width="0.9"/>
<line x1="188.1" y1="527.1" x2="190" y2="527.1" stroke="#6d6e71" stroke-width="0.9"/>
<line x1="188.1" y1="497.7" x2="190" y2="497.7" stroke="#6d6e71" stroke-width="0.9"/>
<line x1="193.8" y1="605.5" x2="193.8" y2="609.5" stroke="#6d6e71" stroke-width="0.9"/>
<line x1="202.77" y1="605.5" x2="202.77" y2="607.8" stroke="#6d6e71" stroke-width="0.9"/>
<line x1="211.73" y1="605.5" x2="211.73" y2="609.5" stroke="#6d6e71" stroke-width="0.9"/>
<line x1="220.7" y1="605.5" x2="220.7" y2="607.8" stroke="#6d6e71" stroke-width="0.9"/>
<line x1="229.66" y1="605.5" x2="229.66" y2="609.5" stroke="#6d6e71" stroke-width="0.9"/>
<line x1="238.63" y1="605.5" x2="238.63" y2="607.8" stroke="#6d6e71" stroke-width="0.9"/>
<line x1="247.59" y1="605.5" x2="247.59" y2="609.5" stroke="#6d6e71" stroke-width="0.9"/>
<line x1="256.56" y1="605.5" x2="256.56" y2="607.8" stroke="#6d6e71" stroke-width="0.9"/>
<line x1="265.52" y1="605.5" x2="265.52" y2="609.5" stroke="#6d6e71" stroke-width="0.9"/>
<line x1="274.48" y1="605.5" x2="274.48" y2="607.8" stroke="#6d6e71" stroke-width="0.9"/>
<line x1="283.45" y1="605.5" x2="283.45" y2="609.5" stroke="#6d6e71" stroke-width="0.9"/>
<line x1="292.42" y1="605.5" x2="292.42" y2="607.8" stroke="#6d6e71" stroke-width="0.9"/>
<line x1="301.38" y1="605.5" x2="301.38" y2="609.5" stroke="#6d6e71" stroke-width="0.9"/>
<text transform="translate(190.9 620.7) scale(1.05 1)" font-size="10.6" letter-spacing="0.4" fill="#231f20">0</text>
<text transform="translate(206.17 620.7) scale(1.05 1)" font-size="10.6" letter-spacing="0.4" fill="#231f20">20</text>
<text transform="translate(224.26 620.7) scale(1.05 1)" font-size="10.6" letter-spacing="0.4" fill="#231f20">40</text>
<text transform="translate(242.03 620.7) scale(1.05 1)" font-size="10.6" letter-spacing="0.4" fill="#231f20">60</text>
<text transform="translate(260.01 620.7) scale(1.05 1)" font-size="10.6" letter-spacing="0.4" fill="#231f20">80</text>
<text transform="translate(275.14 620.7) scale(1.05 1)" font-size="10.6" letter-spacing="0.4" fill="#231f20">100</text>
<text transform="translate(293.07 620.7) scale(1.05 1)" font-size="10.6" letter-spacing="0.4" fill="#231f20">120</text>
<text transform="translate(281.83 491.6) scale(0.98 1)" font-size="13" letter-spacing="0.72" fill="#231f20">SE</text>
<text transform="translate(193.51 593.5) scale(0.98 1)" font-size="13" letter-spacing="1.07" fill="#231f20">TE</text>
<text transform="translate(171 597.26) rotate(-90) scale(1.02 1)" font-size="11.4" letter-spacing="0.12" fill="#231f20">E2F1 signal (×1000)</text>
</g>
<g>
<rect x="455.7" y="478.4" width="9.9" height="116.3" fill="#e2f0e4"/>
<rect x="346.6" y="594.7" width="109.1" height="10.5" fill="#fde2d6"/>
<path d="M349.7 600.4 L385 600 L421.5 599.3 L435 598.6 L440.7 598.4 L449.3 597 L453 596.1 L456.2 595 L458 591 L459.6 587.5 L459.8 577.2 L460 560 L460.4 540 L460.9 515 L461.7 482.5" fill="none" stroke="#868ed1" stroke-width="0.9" stroke-linejoin="round"/>
<rect x="346.6" y="478.4" width="119" height="126.8" fill="none" stroke="#231f20" stroke-width="1"/>
<line x1="342.4" y1="600.6" x2="346.1" y2="600.6" stroke="#6d6e71" stroke-width="0.9"/>
<text transform="translate(340.1 603.7) rotate(-90) scale(1.05 1)" font-size="10.6" letter-spacing="0.3" fill="#231f20">0</text>
<line x1="342.4" y1="571.15" x2="346.1" y2="571.15" stroke="#6d6e71" stroke-width="0.9"/>
<text transform="translate(340.1 577) rotate(-90) scale(1.05 1)" font-size="10.6" letter-spacing="0.3" fill="#231f20">50</text>
<line x1="342.4" y1="541.7" x2="346.1" y2="541.7" stroke="#6d6e71" stroke-width="0.9"/>
<text transform="translate(340.1 550.5) rotate(-90) scale(1.05 1)" font-size="10.6" letter-spacing="0.3" fill="#231f20">100</text>
<line x1="342.4" y1="512.25" x2="346.1" y2="512.25" stroke="#6d6e71" stroke-width="0.9"/>
<text transform="translate(340.1 521.05) rotate(-90) scale(1.05 1)" font-size="10.6" letter-spacing="0.3" fill="#231f20">150</text>
<line x1="342.4" y1="482.8" x2="346.1" y2="482.8" stroke="#6d6e71" stroke-width="0.9"/>
<text transform="translate(340.1 491.46) rotate(-90) scale(1.05 1)" font-size="10.6" letter-spacing="0.3" fill="#231f20">200</text>
<line x1="344.2" y1="585.88" x2="346.1" y2="585.88" stroke="#6d6e71" stroke-width="0.9"/>
<line x1="344.2" y1="556.43" x2="346.1" y2="556.43" stroke="#6d6e71" stroke-width="0.9"/>
<line x1="344.2" y1="526.98" x2="346.1" y2="526.98" stroke="#6d6e71" stroke-width="0.9"/>
<line x1="344.2" y1="497.53" x2="346.1" y2="497.53" stroke="#6d6e71" stroke-width="0.9"/>
<line x1="349.7" y1="605.7" x2="349.7" y2="609.7" stroke="#6d6e71" stroke-width="0.9"/>
<line x1="358.69" y1="605.7" x2="358.69" y2="608" stroke="#6d6e71" stroke-width="0.9"/>
<line x1="367.68" y1="605.7" x2="367.68" y2="609.7" stroke="#6d6e71" stroke-width="0.9"/>
<line x1="376.67" y1="605.7" x2="376.67" y2="608" stroke="#6d6e71" stroke-width="0.9"/>
<line x1="385.66" y1="605.7" x2="385.66" y2="609.7" stroke="#6d6e71" stroke-width="0.9"/>
<line x1="394.65" y1="605.7" x2="394.65" y2="608" stroke="#6d6e71" stroke-width="0.9"/>
<line x1="403.64" y1="605.7" x2="403.64" y2="609.7" stroke="#6d6e71" stroke-width="0.9"/>
<line x1="412.63" y1="605.7" x2="412.63" y2="608" stroke="#6d6e71" stroke-width="0.9"/>
<line x1="421.62" y1="605.7" x2="421.62" y2="609.7" stroke="#6d6e71" stroke-width="0.9"/>
<line x1="430.61" y1="605.7" x2="430.61" y2="608" stroke="#6d6e71" stroke-width="0.9"/>
<line x1="439.6" y1="605.7" x2="439.6" y2="609.7" stroke="#6d6e71" stroke-width="0.9"/>
<line x1="448.59" y1="605.7" x2="448.59" y2="608" stroke="#6d6e71" stroke-width="0.9"/>
<line x1="457.58" y1="605.7" x2="457.58" y2="609.7" stroke="#6d6e71" stroke-width="0.9"/>
<text transform="translate(346.8 620.7) scale(1.05 1)" font-size="10.6" letter-spacing="0.4" fill="#231f20">0</text>
<text transform="translate(362.12 620.7) scale(1.05 1)" font-size="10.6" letter-spacing="0.4" fill="#231f20">20</text>
<text transform="translate(380.26 620.7) scale(1.05 1)" font-size="10.6" letter-spacing="0.4" fill="#231f20">40</text>
<text transform="translate(398.08 620.7) scale(1.05 1)" font-size="10.6" letter-spacing="0.4" fill="#231f20">60</text>
<text transform="translate(416.11 620.7) scale(1.05 1)" font-size="10.6" letter-spacing="0.4" fill="#231f20">80</text>
<text transform="translate(431.29 620.7) scale(1.05 1)" font-size="10.6" letter-spacing="0.4" fill="#231f20">100</text>
<text transform="translate(449.27 620.7) scale(1.05 1)" font-size="10.6" letter-spacing="0.4" fill="#231f20">120</text>
<text transform="translate(438.83 491.6) scale(0.98 1)" font-size="13" letter-spacing="0.72" fill="#231f20">SE</text>
<text transform="translate(350.11 593.2) scale(0.98 1)" font-size="13" letter-spacing="1.07" fill="#231f20">TE</text>
<text transform="translate(326.6 590.56) rotate(-90) scale(1.02 1)" font-size="11.4" letter-spacing="0.11" fill="#231f20">Rb signal (×1000)</text>
</g>
<g>
<rect x="610.5" y="478.4" width="10.4" height="115.6" fill="#e2f0e4"/>
<rect x="501.9" y="594" width="108.6" height="11.1" fill="#fde2d6"/>
<path d="M505.8 600.2 L540 599.7 L573.4 599 L596.1 597.3 L604 596.3 L609.8 595 L611.5 591.5 L612.9 588.7 L614.1 582.9 L614.5 571.5 L614.8 560 L615.2 540 L615.6 520 L616.1 494" fill="none" stroke="#868ed1" stroke-width="0.9" stroke-linejoin="round"/>
<rect x="501.9" y="478.4" width="119" height="126.7" fill="none" stroke="#231f20" stroke-width="1"/>
<line x1="497.7" y1="600.6" x2="501.4" y2="600.6" stroke="#6d6e71" stroke-width="0.9"/>
<text transform="translate(495.1 603.7) rotate(-90) scale(1.05 1)" font-size="10.6" letter-spacing="0.3" fill="#231f20">0</text>
<line x1="497.7" y1="571.05" x2="501.4" y2="571.05" stroke="#6d6e71" stroke-width="0.9"/>
<text transform="translate(495.1 576.9) rotate(-90) scale(1.05 1)" font-size="10.6" letter-spacing="0.3" fill="#231f20">50</text>
<line x1="497.7" y1="541.5" x2="501.4" y2="541.5" stroke="#6d6e71" stroke-width="0.9"/>
<text transform="translate(495.1 550.3) rotate(-90) scale(1.05 1)" font-size="10.6" letter-spacing="0.3" fill="#231f20">100</text>
<line x1="497.7" y1="511.95" x2="501.4" y2="511.95" stroke="#6d6e71" stroke-width="0.9"/>
<text transform="translate(495.1 520.75) rotate(-90) scale(1.05 1)" font-size="10.6" letter-spacing="0.3" fill="#231f20">150</text>
<line x1="497.7" y1="482.4" x2="501.4" y2="482.4" stroke="#6d6e71" stroke-width="0.9"/>
<text transform="translate(495.1 491.06) rotate(-90) scale(1.05 1)" font-size="10.6" letter-spacing="0.3" fill="#231f20">200</text>
<line x1="499.5" y1="585.83" x2="501.4" y2="585.83" stroke="#6d6e71" stroke-width="0.9"/>
<line x1="499.5" y1="556.27" x2="501.4" y2="556.27" stroke="#6d6e71" stroke-width="0.9"/>
<line x1="499.5" y1="526.73" x2="501.4" y2="526.73" stroke="#6d6e71" stroke-width="0.9"/>
<line x1="499.5" y1="497.18" x2="501.4" y2="497.18" stroke="#6d6e71" stroke-width="0.9"/>
<line x1="505.4" y1="605.6" x2="505.4" y2="609.6" stroke="#6d6e71" stroke-width="0.9"/>
<line x1="516.8" y1="605.6" x2="516.8" y2="607.9" stroke="#6d6e71" stroke-width="0.9"/>
<line x1="528.2" y1="605.6" x2="528.2" y2="609.6" stroke="#6d6e71" stroke-width="0.9"/>
<line x1="539.6" y1="605.6" x2="539.6" y2="607.9" stroke="#6d6e71" stroke-width="0.9"/>
<line x1="551" y1="605.6" x2="551" y2="609.6" stroke="#6d6e71" stroke-width="0.9"/>
<line x1="562.4" y1="605.6" x2="562.4" y2="607.9" stroke="#6d6e71" stroke-width="0.9"/>
<line x1="573.8" y1="605.6" x2="573.8" y2="609.6" stroke="#6d6e71" stroke-width="0.9"/>
<line x1="585.2" y1="605.6" x2="585.2" y2="607.9" stroke="#6d6e71" stroke-width="0.9"/>
<line x1="596.6" y1="605.6" x2="596.6" y2="609.6" stroke="#6d6e71" stroke-width="0.9"/>
<line x1="608" y1="605.6" x2="608" y2="607.9" stroke="#6d6e71" stroke-width="0.9"/>
<line x1="619.4" y1="605.6" x2="619.4" y2="609.6" stroke="#6d6e71" stroke-width="0.9"/>
<text transform="translate(502.5 620.7) scale(1.05 1)" font-size="10.6" letter-spacing="0.4" fill="#231f20">0</text>
<text transform="translate(522.64 620.7) scale(1.05 1)" font-size="10.6" letter-spacing="0.4" fill="#231f20">20</text>
<text transform="translate(545.6 620.7) scale(1.05 1)" font-size="10.6" letter-spacing="0.4" fill="#231f20">40</text>
<text transform="translate(568.24 620.7) scale(1.05 1)" font-size="10.6" letter-spacing="0.4" fill="#231f20">60</text>
<text transform="translate(591.09 620.7) scale(1.05 1)" font-size="10.6" letter-spacing="0.4" fill="#231f20">80</text>
<text transform="translate(611.09 620.7) scale(1.05 1)" font-size="10.6" letter-spacing="0.4" fill="#231f20">100</text>
<text transform="translate(593.43 491.6) scale(0.98 1)" font-size="13" letter-spacing="1.03" fill="#231f20">SE</text>
<text transform="translate(505.11 593.2) scale(0.98 1)" font-size="13" letter-spacing="1.07" fill="#231f20">TE</text>
<text transform="translate(482.2 603.96) rotate(-90) scale(1.02 1)" font-size="11.4" letter-spacing="0.21" fill="#231f20">HDAC1 signal (×1000)</text>
</g>
<g>
<rect x="766.4" y="478.1" width="10" height="115.5" fill="#e2f0e4"/>
<rect x="656.7" y="593.6" width="109.7" height="10.8" fill="#fde2d6"/>
<path d="M661.3 599.6 L700 598.9 L732.4 598.3 L745 598.1 L753.6 597.4 L760.5 596.3 L764.5 595.2 L767 594.3 L768.8 591 L770.2 588 L771 584 L771.3 581.8 L771.5 560 L771.8 530 L772.1 510 L772.4 490.9" fill="none" stroke="#868ed1" stroke-width="0.9" stroke-linejoin="round"/>
<rect x="656.7" y="478.1" width="119.7" height="126.3" fill="none" stroke="#231f20" stroke-width="1"/>
<line x1="652.5" y1="599.8" x2="656.2" y2="599.8" stroke="#6d6e71" stroke-width="0.9"/>
<text transform="translate(651 602.9) rotate(-90) scale(1.05 1)" font-size="10.6" letter-spacing="0.3" fill="#231f20">0</text>
<line x1="652.5" y1="576.38" x2="656.2" y2="576.38" stroke="#6d6e71" stroke-width="0.9"/>
<text transform="translate(651 582.23) rotate(-90) scale(1.05 1)" font-size="10.6" letter-spacing="0.3" fill="#231f20">50</text>
<line x1="652.5" y1="552.96" x2="656.2" y2="552.96" stroke="#6d6e71" stroke-width="0.9"/>
<text transform="translate(651 561.76) rotate(-90) scale(1.05 1)" font-size="10.6" letter-spacing="0.3" fill="#231f20">100</text>
<line x1="652.5" y1="529.54" x2="656.2" y2="529.54" stroke="#6d6e71" stroke-width="0.9"/>
<text transform="translate(651 538.34) rotate(-90) scale(1.05 1)" font-size="10.6" letter-spacing="0.3" fill="#231f20">150</text>
<line x1="652.5" y1="506.12" x2="656.2" y2="506.12" stroke="#6d6e71" stroke-width="0.9"/>
<text transform="translate(651 514.78) rotate(-90) scale(1.05 1)" font-size="10.6" letter-spacing="0.3" fill="#231f20">200</text>
<line x1="652.5" y1="482.7" x2="656.2" y2="482.7" stroke="#6d6e71" stroke-width="0.9"/>
<text transform="translate(651 491.36) rotate(-90) scale(1.05 1)" font-size="10.6" letter-spacing="0.3" fill="#231f20">250</text>
<line x1="654.3" y1="588.09" x2="656.2" y2="588.09" stroke="#6d6e71" stroke-width="0.9"/>
<line x1="654.3" y1="564.67" x2="656.2" y2="564.67" stroke="#6d6e71" stroke-width="0.9"/>
<line x1="654.3" y1="541.25" x2="656.2" y2="541.25" stroke="#6d6e71" stroke-width="0.9"/>
<line x1="654.3" y1="517.83" x2="656.2" y2="517.83" stroke="#6d6e71" stroke-width="0.9"/>
<line x1="654.3" y1="494.41" x2="656.2" y2="494.41" stroke="#6d6e71" stroke-width="0.9"/>
<line x1="660.6" y1="604.9" x2="660.6" y2="608.9" stroke="#6d6e71" stroke-width="0.9"/>
<line x1="674.04" y1="604.9" x2="674.04" y2="607.2" stroke="#6d6e71" stroke-width="0.9"/>
<line x1="687.48" y1="604.9" x2="687.48" y2="608.9" stroke="#6d6e71" stroke-width="0.9"/>
<line x1="700.92" y1="604.9" x2="700.92" y2="607.2" stroke="#6d6e71" stroke-width="0.9"/>
<line x1="714.36" y1="604.9" x2="714.36" y2="608.9" stroke="#6d6e71" stroke-width="0.9"/>
<line x1="727.8" y1="604.9" x2="727.8" y2="607.2" stroke="#6d6e71" stroke-width="0.9"/>
<line x1="741.24" y1="604.9" x2="741.24" y2="608.9" stroke="#6d6e71" stroke-width="0.9"/>
<line x1="754.68" y1="604.9" x2="754.68" y2="607.2" stroke="#6d6e71" stroke-width="0.9"/>
<line x1="768.12" y1="604.9" x2="768.12" y2="608.9" stroke="#6d6e71" stroke-width="0.9"/>
<text transform="translate(657.7 620.7) scale(1.05 1)" font-size="10.6" letter-spacing="0.4" fill="#231f20">0</text>
<text transform="translate(681.98 620.7) scale(1.05 1)" font-size="10.6" letter-spacing="0.4" fill="#231f20">50</text>
<text transform="translate(706.05 620.7) scale(1.05 1)" font-size="10.6" letter-spacing="0.4" fill="#231f20">100</text>
<text transform="translate(732.93 620.7) scale(1.05 1)" font-size="10.6" letter-spacing="0.4" fill="#231f20">150</text>
<text transform="translate(759.95 620.7) scale(1.05 1)" font-size="10.6" letter-spacing="0.4" fill="#231f20">200</text>
<text transform="translate(749.33 491.2) scale(0.98 1)" font-size="13" letter-spacing="1.23" fill="#231f20">SE</text>
<text transform="translate(661.01 593.2) scale(0.98 1)" font-size="13" letter-spacing="1.07" fill="#231f20">TE</text>
<text transform="translate(637.6 603.96) rotate(-90) scale(1.02 1)" font-size="11.4" letter-spacing="0.21" fill="#231f20">HDAC2 signal (×1000)</text>
</g>
<line x1="30.6" y1="624.5" x2="779" y2="624.5" stroke="#58595b" stroke-width="1"/>
<text transform="translate(345.98 639.3) scale(1.0 1)" font-size="13.6" letter-spacing="0.2" fill="#231f20">Ranked enhancers</text>
<g>
<rect x="143.6" y="677.4" width="74" height="178.5" fill="none" stroke="#6d6e71" stroke-width="0.9"/>
<line x1="139.2" y1="849.2" x2="143.2" y2="849.2" stroke="#6d6e71" stroke-width="0.9"/>
<text transform="translate(134.8 852.42) rotate(-90) scale(1.05 1)" font-size="11" letter-spacing="0.15" fill="#231f20">0</text>
<line x1="139.2" y1="808" x2="143.2" y2="808" stroke="#6d6e71" stroke-width="0.9"/>
<text transform="translate(134.8 819.94) rotate(-90) scale(1.05 1)" font-size="11" letter-spacing="0.15" fill="#231f20">2000</text>
<line x1="139.2" y1="766.8" x2="143.2" y2="766.8" stroke="#6d6e71" stroke-width="0.9"/>
<text transform="translate(134.8 778.58) rotate(-90) scale(1.05 1)" font-size="11" letter-spacing="0.15" fill="#231f20">4000</text>
<line x1="139.2" y1="725.6" x2="143.2" y2="725.6" stroke="#6d6e71" stroke-width="0.9"/>
<text transform="translate(134.8 737.54) rotate(-90) scale(1.05 1)" font-size="11" letter-spacing="0.15" fill="#231f20">6000</text>
<line x1="139.2" y1="684.4" x2="143.2" y2="684.4" stroke="#6d6e71" stroke-width="0.9"/>
<text transform="translate(134.8 696.3) rotate(-90) scale(1.05 1)" font-size="11" letter-spacing="0.15" fill="#231f20">8000</text>
<line x1="163.4" y1="687.5" x2="163.4" y2="757.5" stroke="#414042" stroke-width="0.8" stroke-dasharray="2 1.4"/>
<line x1="163.4" y1="814.3" x2="163.4" y2="825.3" stroke="#414042" stroke-width="0.8" stroke-dasharray="2 1.4"/>
<line x1="156.4" y1="687.5" x2="170.4" y2="687.5" stroke="#414042" stroke-width="0.9"/>
<line x1="156.4" y1="825.3" x2="170.4" y2="825.3" stroke="#414042" stroke-width="0.9"/>
<rect x="149.3" y="757.5" width="27.9" height="56.8" fill="#ed1c24" stroke="#7a2a2a" stroke-width="0.6"/>
<line x1="149.3" y1="795.6" x2="177.2" y2="795.6" stroke="#1a1415" stroke-width="1.8"/>
<line x1="197.7" y1="825.8" x2="197.7" y2="852.2" stroke="#0d0b0b" stroke-width="4.1" stroke-linecap="round"/>
<line x1="183.9" y1="848.9" x2="211.5" y2="848.9" stroke="#0d0b0b" stroke-width="2"/>
<line x1="163.4" y1="856.3" x2="163.4" y2="859.9" stroke="#6d6e71" stroke-width="0.9"/>
<line x1="197.7" y1="856.3" x2="197.7" y2="859.9" stroke="#6d6e71" stroke-width="0.9"/>
<text transform="translate(154.57 871.8) scale(1.0 1)" font-size="13.2" letter-spacing="0.8" fill="#231f20">SE</text>
<text transform="translate(189.4 871.8) scale(1.0 1)" font-size="13.2" letter-spacing="0.8" fill="#231f20">TE</text>
<text transform="translate(159.1 673.6) scale(1.0 1)" font-size="14.6" letter-spacing="1.18" fill="#231f20">E2F6</text>
<text transform="translate(120.9 815.38) rotate(-90) scale(1.02 1)" font-size="11.4" letter-spacing="0.24" fill="#231f20">ChIP-seq density</text>
</g>
<g>
<rect x="256.6" y="677.4" width="74.3" height="177.9" fill="none" stroke="#6d6e71" stroke-width="0.9"/>
<line x1="252.2" y1="848.2" x2="256.2" y2="848.2" stroke="#6d6e71" stroke-width="0.9"/>
<text transform="translate(247.6 851.42) rotate(-90) scale(1.05 1)" font-size="11" letter-spacing="0.15" fill="#231f20">0</text>
<line x1="252.2" y1="811.75" x2="256.2" y2="811.75" stroke="#6d6e71" stroke-width="0.9"/>
<text transform="translate(247.6 823.69) rotate(-90) scale(1.05 1)" font-size="11" letter-spacing="0.15" fill="#231f20">2000</text>
<line x1="252.2" y1="775.3" x2="256.2" y2="775.3" stroke="#6d6e71" stroke-width="0.9"/>
<text transform="translate(247.6 787.08) rotate(-90) scale(1.05 1)" font-size="11" letter-spacing="0.15" fill="#231f20">4000</text>
<line x1="252.2" y1="738.85" x2="256.2" y2="738.85" stroke="#6d6e71" stroke-width="0.9"/>
<text transform="translate(247.6 750.79) rotate(-90) scale(1.05 1)" font-size="11" letter-spacing="0.15" fill="#231f20">6000</text>
<line x1="252.2" y1="702.4" x2="256.2" y2="702.4" stroke="#6d6e71" stroke-width="0.9"/>
<text transform="translate(247.6 714.3) rotate(-90) scale(1.05 1)" font-size="11" letter-spacing="0.15" fill="#231f20">8000</text>
<line x1="276.5" y1="731.5" x2="276.5" y2="791" stroke="#414042" stroke-width="0.8" stroke-dasharray="2 1.4"/>
<line x1="276.5" y1="831.4" x2="276.5" y2="836.2" stroke="#414042" stroke-width="0.8" stroke-dasharray="2 1.4"/>
<line x1="269.5" y1="731.5" x2="283.5" y2="731.5" stroke="#414042" stroke-width="0.9"/>
<line x1="269.5" y1="836.2" x2="283.5" y2="836.2" stroke="#414042" stroke-width="0.9"/>
<rect x="262.4" y="791" width="28.3" height="40.4" fill="#ed1c24" stroke="#7a2a2a" stroke-width="0.6"/>
<line x1="262.4" y1="820.6" x2="290.7" y2="820.6" stroke="#1a1415" stroke-width="1.8"/>
<circle cx="276.5" cy="717.2" r="1.5" fill="none" stroke="#414042" stroke-width="0.7"/>
<circle cx="276.5" cy="711" r="1.5" fill="none" stroke="#414042" stroke-width="0.7"/>
<circle cx="276.5" cy="700.6" r="1.5" fill="none" stroke="#414042" stroke-width="0.7"/>
<circle cx="276.5" cy="687.5" r="1.5" fill="none" stroke="#414042" stroke-width="0.7"/>
<circle cx="276.5" cy="684" r="1.5" fill="none" stroke="#414042" stroke-width="0.7"/>
<circle cx="276.5" cy="680.3" r="1.5" fill="none" stroke="#414042" stroke-width="0.7"/>
<line x1="311.4" y1="836.8" x2="311.4" y2="850.2" stroke="#0d0b0b" stroke-width="4.1" stroke-linecap="round"/>
<line x1="297.6" y1="847.9" x2="325.2" y2="847.9" stroke="#0d0b0b" stroke-width="2"/>
<line x1="276.5" y1="855.7" x2="276.5" y2="859.3" stroke="#6d6e71" stroke-width="0.9"/>
<line x1="311.4" y1="855.7" x2="311.4" y2="859.3" stroke="#6d6e71" stroke-width="0.9"/>
<text transform="translate(267.67 871.8) scale(1.0 1)" font-size="13.2" letter-spacing="0.8" fill="#231f20">SE</text>
<text transform="translate(303.1 871.8) scale(1.0 1)" font-size="13.2" letter-spacing="0.8" fill="#231f20">TE</text>
<text transform="translate(272.4 673.6) scale(1.0 1)" font-size="14.6" letter-spacing="0.67" fill="#231f20">E2F1</text>
<text transform="translate(234.1 814.88) rotate(-90) scale(1.02 1)" font-size="11.4" letter-spacing="0.23" fill="#231f20">ChIP-seq density</text>
</g>
<g>
<rect x="369.6" y="677.4" width="74.7" height="177.9" fill="none" stroke="#6d6e71" stroke-width="0.9"/>
<line x1="365.2" y1="848.3" x2="369.2" y2="848.3" stroke="#6d6e71" stroke-width="0.9"/>
<text transform="translate(361 851.52) rotate(-90) scale(1.05 1)" font-size="11" letter-spacing="0.15" fill="#231f20">0</text>
<line x1="365.2" y1="811.85" x2="369.2" y2="811.85" stroke="#6d6e71" stroke-width="0.9"/>
<text transform="translate(361 823.79) rotate(-90) scale(1.05 1)" font-size="11" letter-spacing="0.15" fill="#231f20">2000</text>
<line x1="365.2" y1="775.4" x2="369.2" y2="775.4" stroke="#6d6e71" stroke-width="0.9"/>
<text transform="translate(361 787.18) rotate(-90) scale(1.05 1)" font-size="11" letter-spacing="0.15" fill="#231f20">4000</text>
<line x1="365.2" y1="738.95" x2="369.2" y2="738.95" stroke="#6d6e71" stroke-width="0.9"/>
<text transform="translate(361 750.89) rotate(-90) scale(1.05 1)" font-size="11" letter-spacing="0.15" fill="#231f20">6000</text>
<line x1="365.2" y1="702.5" x2="369.2" y2="702.5" stroke="#6d6e71" stroke-width="0.9"/>
<text transform="translate(361 714.4) rotate(-90) scale(1.05 1)" font-size="11" letter-spacing="0.15" fill="#231f20">8000</text>
<line x1="389.7" y1="710.8" x2="389.7" y2="778" stroke="#414042" stroke-width="0.8" stroke-dasharray="2 1.4"/>
<line x1="389.7" y1="823.7" x2="389.7" y2="831.4" stroke="#414042" stroke-width="0.8" stroke-dasharray="2 1.4"/>
<line x1="382.7" y1="710.8" x2="396.7" y2="710.8" stroke="#414042" stroke-width="0.9"/>
<line x1="382.7" y1="831.4" x2="396.7" y2="831.4" stroke="#414042" stroke-width="0.9"/>
<rect x="375.9" y="778" width="27.9" height="45.7" fill="#ed1c24" stroke="#7a2a2a" stroke-width="0.6"/>
<line x1="375.9" y1="812.5" x2="403.8" y2="812.5" stroke="#1a1415" stroke-width="1.8"/>
<circle cx="389.7" cy="703.9" r="1.5" fill="none" stroke="#414042" stroke-width="0.7"/>
<circle cx="389.7" cy="690.9" r="1.5" fill="none" stroke="#414042" stroke-width="0.7"/>
<circle cx="389.7" cy="684.5" r="1.5" fill="none" stroke="#414042" stroke-width="0.7"/>
<circle cx="389.7" cy="681.7" r="1.5" fill="none" stroke="#414042" stroke-width="0.7"/>
<line x1="424.2" y1="832.2" x2="424.2" y2="850.7" stroke="#0d0b0b" stroke-width="4.1" stroke-linecap="round"/>
<line x1="410.4" y1="848" x2="438" y2="848" stroke="#0d0b0b" stroke-width="2"/>
<line x1="389.7" y1="855.7" x2="389.7" y2="859.3" stroke="#6d6e71" stroke-width="0.9"/>
<line x1="424.2" y1="855.7" x2="424.2" y2="859.3" stroke="#6d6e71" stroke-width="0.9"/>
<text transform="translate(380.87 871.8) scale(1.0 1)" font-size="13.2" letter-spacing="0.8" fill="#231f20">SE</text>
<text transform="translate(415.9 871.8) scale(1.0 1)" font-size="13.2" letter-spacing="0.8" fill="#231f20">TE</text>
<text transform="translate(393.7 673.6) scale(1.0 1)" font-size="14.6" letter-spacing="1.44" fill="#231f20">Rb</text>
<text transform="translate(347.2 814.88) rotate(-90) scale(1.02 1)" font-size="11.4" letter-spacing="0.23" fill="#231f20">ChIP-seq density</text>
</g>
<g>
<rect x="482.5" y="677.4" width="75.3" height="178.2" fill="none" stroke="#6d6e71" stroke-width="0.9"/>
<line x1="478.1" y1="849" x2="482.1" y2="849" stroke="#6d6e71" stroke-width="0.9"/>
<text transform="translate(474.3 852.22) rotate(-90) scale(1.05 1)" font-size="11" letter-spacing="0.15" fill="#231f20">0</text>
<line x1="478.1" y1="812.35" x2="482.1" y2="812.35" stroke="#6d6e71" stroke-width="0.9"/>
<text transform="translate(474.3 824.29) rotate(-90) scale(1.05 1)" font-size="11" letter-spacing="0.15" fill="#231f20">2000</text>
<line x1="478.1" y1="775.7" x2="482.1" y2="775.7" stroke="#6d6e71" stroke-width="0.9"/>
<text transform="translate(474.3 787.48) rotate(-90) scale(1.05 1)" font-size="11" letter-spacing="0.15" fill="#231f20">4000</text>
<line x1="478.1" y1="739.05" x2="482.1" y2="739.05" stroke="#6d6e71" stroke-width="0.9"/>
<text transform="translate(474.3 750.99) rotate(-90) scale(1.05 1)" font-size="11" letter-spacing="0.15" fill="#231f20">6000</text>
<line x1="478.1" y1="702.4" x2="482.1" y2="702.4" stroke="#6d6e71" stroke-width="0.9"/>
<text transform="translate(474.3 714.3) rotate(-90) scale(1.05 1)" font-size="11" letter-spacing="0.15" fill="#231f20">8000</text>
<line x1="502.6" y1="703.4" x2="502.6" y2="778.2" stroke="#414042" stroke-width="0.8" stroke-dasharray="2 1.4"/>
<line x1="502.6" y1="830.8" x2="502.6" y2="835.4" stroke="#414042" stroke-width="0.8" stroke-dasharray="2 1.4"/>
<line x1="495.6" y1="703.4" x2="509.6" y2="703.4" stroke="#414042" stroke-width="0.9"/>
<line x1="495.6" y1="835.4" x2="509.6" y2="835.4" stroke="#414042" stroke-width="0.9"/>
<rect x="488.5" y="778.2" width="28.3" height="52.6" fill="#ed1c24" stroke="#7a2a2a" stroke-width="0.6"/>
<line x1="488.5" y1="819.1" x2="516.8" y2="819.1" stroke="#1a1415" stroke-width="1.8"/>
<circle cx="502.6" cy="696.7" r="1.5" fill="none" stroke="#414042" stroke-width="0.7"/>
<line x1="537.3" y1="836" x2="537.3" y2="851.4" stroke="#0d0b0b" stroke-width="4.1" stroke-linecap="round"/>
<line x1="523.5" y1="848.7" x2="551.1" y2="848.7" stroke="#0d0b0b" stroke-width="2"/>
<line x1="502.6" y1="856" x2="502.6" y2="859.6" stroke="#6d6e71" stroke-width="0.9"/>
<line x1="537.3" y1="856" x2="537.3" y2="859.6" stroke="#6d6e71" stroke-width="0.9"/>
<text transform="translate(493.77 871.8) scale(1.0 1)" font-size="13.2" letter-spacing="0.8" fill="#231f20">SE</text>
<text transform="translate(529 871.8) scale(1.0 1)" font-size="13.2" letter-spacing="0.8" fill="#231f20">TE</text>
<text transform="translate(490.9 673.6) scale(1.0 1)" font-size="14.6" letter-spacing="1.14" fill="#231f20">HDAC1</text>
<text transform="translate(461.1 814.38) rotate(-90) scale(1.02 1)" font-size="11.4" letter-spacing="0.25" fill="#231f20">ChIP-seq density</text>
</g>
<g>
<rect x="595.7" y="677.4" width="76.3" height="177.9" fill="none" stroke="#6d6e71" stroke-width="0.9"/>
<line x1="591.3" y1="848.7" x2="595.3" y2="848.7" stroke="#6d6e71" stroke-width="0.9"/>
<text transform="translate(588 851.92) rotate(-90) scale(1.05 1)" font-size="11" letter-spacing="0.15" fill="#231f20">0</text>
<line x1="591.3" y1="812.1" x2="595.3" y2="812.1" stroke="#6d6e71" stroke-width="0.9"/>
<text transform="translate(588 824.04) rotate(-90) scale(1.05 1)" font-size="11" letter-spacing="0.15" fill="#231f20">2000</text>
<line x1="591.3" y1="775.5" x2="595.3" y2="775.5" stroke="#6d6e71" stroke-width="0.9"/>
<text transform="translate(588 787.28) rotate(-90) scale(1.05 1)" font-size="11" letter-spacing="0.15" fill="#231f20">4000</text>
<line x1="591.3" y1="738.9" x2="595.3" y2="738.9" stroke="#6d6e71" stroke-width="0.9"/>
<text transform="translate(588 750.84) rotate(-90) scale(1.05 1)" font-size="11" letter-spacing="0.15" fill="#231f20">6000</text>
<line x1="591.3" y1="702.3" x2="595.3" y2="702.3" stroke="#6d6e71" stroke-width="0.9"/>
<text transform="translate(588 714.2) rotate(-90) scale(1.05 1)" font-size="11" letter-spacing="0.15" fill="#231f20">8000</text>
<line x1="616" y1="703.4" x2="616" y2="778.2" stroke="#414042" stroke-width="0.8" stroke-dasharray="2 1.4"/>
<line x1="616" y1="830.6" x2="616" y2="835.2" stroke="#414042" stroke-width="0.8" stroke-dasharray="2 1.4"/>
<line x1="609" y1="703.4" x2="623" y2="703.4" stroke="#414042" stroke-width="0.9"/>
<line x1="609" y1="835.2" x2="623" y2="835.2" stroke="#414042" stroke-width="0.9"/>
<rect x="602" y="778.2" width="28" height="52.4" fill="#ed1c24" stroke="#7a2a2a" stroke-width="0.6"/>
<line x1="602" y1="819.1" x2="630" y2="819.1" stroke="#1a1415" stroke-width="1.8"/>
<circle cx="616" cy="696.7" r="1.5" fill="none" stroke="#414042" stroke-width="0.7"/>
<line x1="651" y1="836" x2="651" y2="851.4" stroke="#0d0b0b" stroke-width="4.1" stroke-linecap="round"/>
<line x1="637.2" y1="848.4" x2="664.8" y2="848.4" stroke="#0d0b0b" stroke-width="2"/>
<line x1="616" y1="855.7" x2="616" y2="859.3" stroke="#6d6e71" stroke-width="0.9"/>
<line x1="651" y1="855.7" x2="651" y2="859.3" stroke="#6d6e71" stroke-width="0.9"/>
<text transform="translate(607.17 871.8) scale(1.0 1)" font-size="13.2" letter-spacing="0.8" fill="#231f20">SE</text>
<text transform="translate(642.7 871.8) scale(1.0 1)" font-size="13.2" letter-spacing="0.8" fill="#231f20">TE</text>
<text transform="translate(603 673.6) scale(1.0 1)" font-size="14.6" letter-spacing="1.49" fill="#231f20">HDAC2</text>
<text transform="translate(575 814.38) rotate(-90) scale(1.02 1)" font-size="11.4" letter-spacing="0.25" fill="#231f20">ChIP-seq density</text>
</g>
</svg></body></html>
